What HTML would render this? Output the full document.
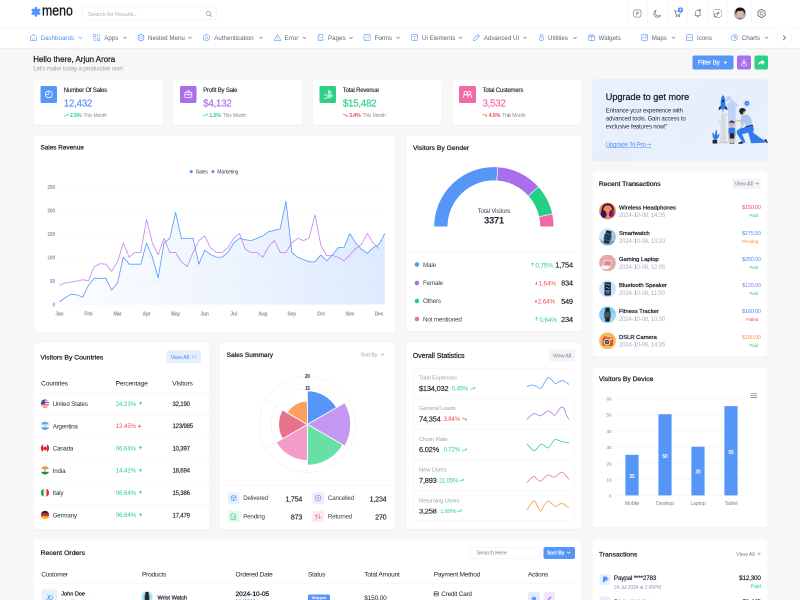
<!DOCTYPE html>
<html><head><meta charset="utf-8"><title>meno</title>
<style>
*{box-sizing:border-box;margin:0;padding:0}
html,body{width:800px;height:600px;overflow:hidden;background:#f7f7f8}
body{font-family:"Liberation Sans",sans-serif;color:#212b36}
#root{position:absolute;left:0;top:0;width:1600px;height:1200px;transform:scale(.5);transform-origin:0 0;will-change:transform;background:#f7f7f8;overflow:hidden}
.abs{position:absolute}
.card{position:absolute;background:#fff;border-radius:6px;box-shadow:0 1px 3px rgba(30,40,60,.06)}
.t{position:absolute;white-space:nowrap;line-height:1}
svg{position:absolute;overflow:visible}
#hdr{position:absolute;left:0;top:0;width:1600px;height:55px;background:#fff;border-bottom:1px solid #eef0f4}
#nav{position:absolute;left:0;top:55px;width:1600px;height:41px;background:#fff;box-shadow:0 1px 3px rgba(30,40,60,.08)}
.nv{position:absolute;white-space:nowrap;line-height:1}
</style></head><body><div id="root">
<div id="hdr"></div>
<svg style="left:60.0px;top:12.0px" width="24.0" height="26.0" viewBox="30 6 12 13" ><g stroke="#4d93ff" stroke-width="2.700" stroke-linecap="round"><line x1="35.9" y1="8.250" x2="35.9" y2="15.350"/><line x1="32.830" y1="10.030" x2="38.970" y2="13.570"/><line x1="32.830" y1="13.570" x2="38.970" y2="10.030"/></g></svg>
<div class="t" style="left:84.4px;top:5.900px;font-size:29.700px;color:#14161b;-webkit-text-stroke:.65px #14161b;transform:scaleX(.83);transform-origin:0 0">meno</div>
<div class="abs" style="left:165.2px;top:12.8px;width:267.6px;height:27.2px;background:#fff;border-radius:5px;border:1px solid #e6ecfa"></div>
<div class="t" style="left:176.0px;top:21.7px;font-size:11.7px;color:#a9b2c3;letter-spacing:-0.29px">Search for Results...</div>
<svg style="left:410.0px;top:20.0px" width="16.0" height="16.0" viewBox="205 10 8 8" ><g fill="none" stroke="#7d8797" stroke-width=".65"><circle cx="208.300" cy="13.300" r="2.100"/><path d="M210 15l1.600 1.600" stroke-linecap="round"/></g></svg>
<div class="abs" style="left:1255.1px;top:0.0px;width:1.0px;height:54.0px;background:#eef0f5;border-radius:0px"></div>
<div class="abs" style="left:1294.7px;top:0.0px;width:1.0px;height:54.0px;background:#eef0f5;border-radius:0px"></div>
<div class="abs" style="left:1334.9px;top:0.0px;width:1.0px;height:54.0px;background:#eef0f5;border-radius:0px"></div>
<div class="abs" style="left:1375.1px;top:0.0px;width:1.0px;height:54.0px;background:#eef0f5;border-radius:0px"></div>
<div class="abs" style="left:1414.7px;top:0.0px;width:1.0px;height:54.0px;background:#eef0f5;border-radius:0px"></div>
<div class="abs" style="left:1455.1px;top:0.0px;width:1.0px;height:54.0px;background:#eef0f5;border-radius:0px"></div>
<div class="abs" style="left:1502.5px;top:0.0px;width:1.0px;height:54.0px;background:#eef0f5;border-radius:0px"></div>
<svg style="left:1264.0px;top:16.0px" width="22.0" height="22.0" viewBox="632 8 11 11" ><g fill="none" stroke="#677186" stroke-width=".65" stroke-linecap="round" stroke-linejoin="round"><rect x="633.700" y="9.800" width="7.300" height="7.300" rx="2"/><path d="M635.900 12.100h3M636.700 12.100v3.100M636.700 13.700h1.700" stroke-width=".65"/></g></svg>
<svg style="left:1304.0px;top:16.0px" width="22.0" height="22.0" viewBox="652 8 11 11" ><g fill="none" stroke="#677186" stroke-width=".65" stroke-linecap="round" stroke-linejoin="round"><path d="M656.200 10.200a3.600 3.600 0 1 0 4.500 4.900 3.300 3.300 0 0 1-4.500-4.900z"/></g></svg>
<svg style="left:1344.0px;top:12.0px" width="24.0" height="26.0" viewBox="672 6 12 13" ><g fill="none" stroke="#677186" stroke-width=".65" stroke-linecap="round" stroke-linejoin="round"><path d="M674 10.200h1l1.200 4.800h3.500l.8-3.300h-5.200"/><circle cx="676.700" cy="16.300" r=".5"/><circle cx="679.300" cy="16.300" r=".5"/></g><circle cx="680.500" cy="10" r="2.900" fill="#4a90ff" stroke="#fff" stroke-width=".5"/></svg>
<div class="t" style="left:1359.2px;top:17.4px;font-size:6.89px;color:#fff;font-weight:700;letter-spacing:-0.22px">6</div>
<svg style="left:1384.0px;top:16.0px" width="24.0" height="22.0" viewBox="692 8 12 11" ><g fill="none" stroke="#677186" stroke-width=".65" stroke-linecap="round" stroke-linejoin="round"><path d="M694.800 15.300c.700-.700.800-1.500.800-2.600 0-1.500 1-2.600 2.200-2.600s2.200 1.100 2.200 2.600c0 1.100.1 1.900.8 2.600z"/><path d="M696.900 16.500c.4.500 1.400.5 1.800 0"/></g><circle cx="699.700" cy="10.300" r="1.250" fill="#f54fa0"/></svg>
<svg style="left:1424.0px;top:16.0px" width="24.0" height="22.0" viewBox="712 8 12 11" ><g fill="none" stroke="#677186" stroke-width=".65" stroke-linecap="round" stroke-linejoin="round"><rect x="713.800" y="9.700" width="7.600" height="7.600" rx="2" stroke-dasharray="1.3 1.300"/><path d="M716 15.200l2.800-2.800M717.300 12.300h1.600v1.600" stroke-width=".6"/><rect x="714.500" y="13.800" width="2.600" height="2.600" rx=".8" stroke-width=".6" fill="#fff"/></g></svg>
<svg style="left:1466.0px;top:14.0px" width="28.0" height="26.0" viewBox="733 7 14 13" ><defs><clipPath id="av"><circle cx="740" cy="13.500" r="6"/></clipPath></defs><g clip-path="url(#av)"><rect x="733" y="7" width="14" height="13" fill="#a6acb4"/><ellipse cx="739.900" cy="14.900" rx="3.100" ry="4.500" fill="#d9b9a6"/><ellipse cx="740" cy="19.300" rx="2.600" ry="1.700" fill="#9a6d52"/><path d="M735.800 14.300C734.600 9.300 737.300 7.200 740.200 7.200C743.700 7.200 745.800 9.600 744.500 14.600C744.200 12.400 743.400 11 742 10.300C741.100 11.200 739.300 11.400 738.300 10.600C737 11.300 736.200 12.500 735.800 14.300Z" fill="#161313"/></g></svg>
<svg style="left:1510.0px;top:16.0px" width="26.0" height="22.0" viewBox="755 8 13 11" ><g fill="none" stroke="#677186" stroke-width=".65" stroke-linecap="round" stroke-linejoin="round"><path d="M761.50 9.40 L765.05 11.45 L765.05 15.55 L761.50 17.60 L757.95 15.55 L757.95 11.45Z" stroke-linejoin="round" stroke-width=".9"/><circle cx="761.500" cy="13.500" r="1.500"/></g></svg>
<div id="nav"><svg style="left:59.0px;top:12.2px" width="16" height="16" viewBox="0 0 14 14" fill="none" stroke="#5a9bfa" stroke-width="1.05" stroke-linejoin="round" stroke-linecap="round"><path d="M1.5 6.2 7 1.5l5.5 4.7V11a1.6 1.6 0 0 1-1.6 1.6H3.1A1.6 1.6 0 0 1 1.5 11z"/><path d="M5.2 12.4V9.2h3.6v3.2" opacity=".6"/></svg>
<div class="nv" style="left:81.2px;top:14.7px;font-size:12.4px;color:#4d8ff5">Dashboards</div>
<svg style="left:157.0px;top:18px" width="8" height="6" viewBox="0 0 8 6" fill="none" stroke="#4d8ff5" stroke-width="1.2" stroke-linecap="round" stroke-linejoin="round"><path d="M1 1.2 4 4.200 7 1.200"/></svg>
<svg style="left:185.4px;top:12.2px" width="16" height="16" viewBox="0 0 14 14" fill="none" stroke="#5a9bfa" stroke-width="1.05" stroke-linejoin="round" stroke-linecap="round"><rect x="1.3" y="1.3" width="4.6" height="4.6" rx="2"/><rect x="8.1" y="1.3" width="4.6" height="4.6" rx="2" opacity=".6"/><rect x="1.3" y="8.1" width="4.6" height="4.6" rx="2" opacity=".6"/><rect x="8.1" y="8.1" width="4.6" height="4.6" rx="2"/></svg>
<div class="nv" style="left:208.4px;top:14.7px;font-size:12.4px;color:#5b6676">Apps</div>
<svg style="left:245.6px;top:18px" width="8" height="6" viewBox="0 0 8 6" fill="none" stroke="#5b6676" stroke-width="1.2" stroke-linecap="round" stroke-linejoin="round"><path d="M1 1.2 4 4.200 7 1.200"/></svg>
<svg style="left:274.0px;top:12.2px" width="16" height="16" viewBox="0 0 14 14" fill="none" stroke="#5a9bfa" stroke-width="1.05" stroke-linejoin="round" stroke-linecap="round"><path d="M7 1 12 3.400v7.200L7 13 2 10.600V3.400z"/><path d="M2.200 3.600 7 6l4.800-2.400M2.200 7.300 7 9.700l4.800-2.400" opacity=".65"/></svg>
<div class="nv" style="left:296.0px;top:14.7px;font-size:12.4px;color:#5b6676">Nested Menu</div>
<svg style="left:376.0px;top:18px" width="8" height="6" viewBox="0 0 8 6" fill="none" stroke="#5b6676" stroke-width="1.2" stroke-linecap="round" stroke-linejoin="round"><path d="M1 1.2 4 4.200 7 1.200"/></svg>
<svg style="left:405.0px;top:12.2px" width="16" height="16" viewBox="0 0 14 14" fill="none" stroke="#5a9bfa" stroke-width="1.05" stroke-linejoin="round" stroke-linecap="round"><circle cx="7" cy="7" r="5.7"/><path d="M7 4.2a1.6 1.6 0 1 1 0 3.2 1.6 1.6 0 0 1 0-3.2zM4.3 10.3c.5-1.3 1.5-1.9 2.7-1.9s2.2.6 2.7 1.9" opacity=".7"/></svg>
<div class="nv" style="left:428.5px;top:14.7px;font-size:12.4px;color:#5b6676">Authentication</div>
<svg style="left:518.0px;top:18px" width="8" height="6" viewBox="0 0 8 6" fill="none" stroke="#5b6676" stroke-width="1.2" stroke-linecap="round" stroke-linejoin="round"><path d="M1 1.2 4 4.200 7 1.200"/></svg>
<svg style="left:547.0px;top:12.2px" width="16" height="16" viewBox="0 0 14 14" fill="none" stroke="#5a9bfa" stroke-width="1.05" stroke-linejoin="round" stroke-linecap="round"><path d="M7 1.8 12.6 11.6a.6.6 0 0 1-.5.9H1.9a.6.6 0 0 1-.5-.9z"/><path d="M7 5.5v3M7 10v.4" opacity=".7"/></svg>
<div class="nv" style="left:569.0px;top:14.7px;font-size:12.4px;color:#5b6676">Error</div>
<svg style="left:605.4px;top:18px" width="8" height="6" viewBox="0 0 8 6" fill="none" stroke="#5b6676" stroke-width="1.2" stroke-linecap="round" stroke-linejoin="round"><path d="M1 1.2 4 4.200 7 1.200"/></svg>
<svg style="left:633.4px;top:12.2px" width="16" height="16" viewBox="0 0 14 14" fill="none" stroke="#5a9bfa" stroke-width="1.05" stroke-linejoin="round" stroke-linecap="round"><path d="M4.5 1.4h5.2a1.5 1.5 0 0 1 1.5 1.5v8.2a1.5 1.5 0 0 1-1.5 1.5H4.3a1.5 1.5 0 0 1-1.5-1.5V4.2z"/><path d="M4.8 1.6v2.8H2.9M5 7.5h4M5 9.8h2.5" opacity=".6"/></svg>
<div class="nv" style="left:656.0px;top:14.7px;font-size:12.4px;color:#5b6676">Pages</div>
<svg style="left:698.0px;top:18px" width="8" height="6" viewBox="0 0 8 6" fill="none" stroke="#5b6676" stroke-width="1.2" stroke-linecap="round" stroke-linejoin="round"><path d="M1 1.2 4 4.200 7 1.200"/></svg>
<svg style="left:725.6px;top:12.2px" width="16" height="16" viewBox="0 0 14 14" fill="none" stroke="#5a9bfa" stroke-width="1.05" stroke-linejoin="round" stroke-linecap="round"><rect x="1.5" y="1.5" width="11" height="11" rx="2.5"/><path d="M5.2 1.8v10.4M8.2 5h2M8.2 7.5h2" opacity=".6"/></svg>
<div class="nv" style="left:749.0px;top:14.7px;font-size:12.4px;color:#5b6676">Forms</div>
<svg style="left:792.0px;top:18px" width="8" height="6" viewBox="0 0 8 6" fill="none" stroke="#5b6676" stroke-width="1.2" stroke-linecap="round" stroke-linejoin="round"><path d="M1 1.2 4 4.200 7 1.200"/></svg>
<svg style="left:820.6px;top:12.2px" width="16" height="16" viewBox="0 0 14 14" fill="none" stroke="#5a9bfa" stroke-width="1.05" stroke-linejoin="round" stroke-linecap="round"><rect x="1.5" y="1.5" width="11" height="11" rx="2.8"/><path d="M1.8 5h10.4M7 5v7.2" opacity=".6"/></svg>
<div class="nv" style="left:844.0px;top:14.7px;font-size:12.4px;color:#5b6676">Ui Elements</div>
<svg style="left:917.0px;top:18px" width="8" height="6" viewBox="0 0 8 6" fill="none" stroke="#5b6676" stroke-width="1.2" stroke-linecap="round" stroke-linejoin="round"><path d="M1 1.2 4 4.200 7 1.200"/></svg>
<svg style="left:944.5px;top:12.2px" width="16" height="16" viewBox="0 0 14 14" fill="none" stroke="#5a9bfa" stroke-width="1.05" stroke-linejoin="round" stroke-linecap="round"><path d="M9.3 1.8 12.2 4.7 5.2 11.7l-3.6.8.8-3.7z"/><path d="M7.8 3.4l2.8 2.8" opacity=".6"/></svg>
<div class="nv" style="left:967.5px;top:14.7px;font-size:12.4px;color:#5b6676">Advanced UI</div>
<svg style="left:1046.0px;top:18px" width="8" height="6" viewBox="0 0 8 6" fill="none" stroke="#5b6676" stroke-width="1.2" stroke-linecap="round" stroke-linejoin="round"><path d="M1 1.2 4 4.200 7 1.200"/></svg>
<svg style="left:1074.5px;top:12.2px" width="16" height="16" viewBox="0 0 14 14" fill="none" stroke="#5a9bfa" stroke-width="1.05" stroke-linejoin="round" stroke-linecap="round"><circle cx="7" cy="8.6" r="3.9"/><path d="M4.3 1.3h5.4L8.5 4.6h-3zM7 7.2v2.8" opacity=".7"/></svg>
<div class="nv" style="left:1096.0px;top:14.7px;font-size:12.4px;color:#5b6676">Utilities</div>
<svg style="left:1146.0px;top:18px" width="8" height="6" viewBox="0 0 8 6" fill="none" stroke="#5b6676" stroke-width="1.2" stroke-linecap="round" stroke-linejoin="round"><path d="M1 1.2 4 4.200 7 1.200"/></svg>
<svg style="left:1174.5px;top:12.2px" width="16" height="16" viewBox="0 0 14 14" fill="none" stroke="#5a9bfa" stroke-width="1.05" stroke-linejoin="round" stroke-linecap="round"><rect x="2" y="5.8" width="10" height="6.8" rx="1.5"/><path d="M1.4 3.8h11.2v2H1.4zM7 3.8v8.8M7 3.6C5.5 1 3.6 1.6 4 3M7 3.6C8.5 1 10.4 1.6 10 3" opacity=".7"/></svg>
<div class="nv" style="left:1197.0px;top:14.7px;font-size:12.4px;color:#5b6676">Widgets</div>
<svg style="left:1281.0px;top:12.2px" width="16" height="16" viewBox="0 0 14 14" fill="none" stroke="#5a9bfa" stroke-width="1.05" stroke-linejoin="round" stroke-linecap="round"><rect x="1.5" y="1.5" width="11" height="11" rx="3"/><path d="M2 8.5 5.5 6l3 3 4-3.5M8.5 4.2a1 1 0 1 1 0 .1" opacity=".7"/></svg>
<div class="nv" style="left:1303.5px;top:14.7px;font-size:12.4px;color:#5b6676">Maps</div>
<svg style="left:1342.5px;top:18px" width="8" height="6" viewBox="0 0 8 6" fill="none" stroke="#5b6676" stroke-width="1.2" stroke-linecap="round" stroke-linejoin="round"><path d="M1 1.2 4 4.200 7 1.200"/></svg>
<svg style="left:1370.5px;top:12.2px" width="16" height="16" viewBox="0 0 14 14" fill="none" stroke="#5a9bfa" stroke-width="1.05" stroke-linejoin="round" stroke-linecap="round"><path d="M1.6 5.2 2.6 2a.9.9 0 0 1 .9-.6h7a.9.9 0 0 1 .9.6l1 3.2v6a1.4 1.4 0 0 1-1.4 1.4H3A1.4 1.4 0 0 1 1.6 11.200z"/><path d="M1.8 5.4c.8 1.8 2.6 1.8 3.500 0 .8 1.800 2.600 1.800 3.400 0 .8 1.800 2.600 1.800 3.500 0" opacity=".7"/></svg>
<div class="nv" style="left:1394.0px;top:14.7px;font-size:12.4px;color:#5b6676">Icons</div>
<svg style="left:1461.0px;top:12.2px" width="16" height="16" viewBox="0 0 14 14" fill="none" stroke="#5a9bfa" stroke-width="1.05" stroke-linejoin="round" stroke-linecap="round"><path d="M6.300 2.200A5.300 5.300 0 1 0 11.900 7.800H6.300z"/><path d="M8.200 1.300v4.600h4.600A4.700 4.700 0 0 0 8.200 1.300z" opacity=".7"/></svg>
<div class="nv" style="left:1483.5px;top:14.7px;font-size:12.4px;color:#5b6676">Charts</div>
<svg style="left:1528.5px;top:18px" width="8" height="6" viewBox="0 0 8 6" fill="none" stroke="#5b6676" stroke-width="1.2" stroke-linecap="round" stroke-linejoin="round"><path d="M1 1.2 4 4.200 7 1.200"/></svg>
<div class="abs" style="left:1553px;top:5px;width:31px;height:31px;border-radius:50%;background:#fff;border:1px solid #eef0f4;box-shadow:0 1px 2px rgba(0,0,0,.04)"></div><svg style="left:1565px;top:15px" width="8" height="11" viewBox="0 0 8 11" fill="none" stroke="#444c58" stroke-width="1.500" stroke-linecap="round" stroke-linejoin="round"><path d="M2 1.500 6 5.500 2 9.500"/></svg></div>
<div class="t" style="left:66.4px;top:110.5px;font-size:15.86px;color:#1b1f27;-webkit-text-stroke:.5px #1b1f27">Hello there, Arjun Arora</div>
<div class="t" style="left:66.4px;top:130.9px;font-size:12.3px;color:#9aa4b5;letter-spacing:-0.32px">Let's make today a productive one!</div>
<div class="abs" style="left:1384.5px;top:110.5px;width:82.3px;height:28.7px;background:#5596f7;border-radius:4px"></div>
<div class="t" style="left:1395.8px;top:120.1px;font-size:11.94px;color:#fff;-webkit-text-stroke:.3px #fff;letter-spacing:0.00px">Filter By</div>
<svg style="left:1444.0px;top:120.0px" width="14.0" height="12.0" viewBox="722 60 7 6" ><path d="M723.400 61.700h3.800l-1.900 2.200z" fill="#fff"/></svg>
<div class="abs" style="left:1474.0px;top:110.5px;width:28.0px;height:28.7px;background:#a86eeb;border-radius:4px"></div>
<svg style="left:1474.0px;top:110.0px" width="28.0" height="30.0" viewBox="737 55 14 15" ><g fill="none" stroke="#fff" stroke-width=".8" stroke-linecap="round" stroke-linejoin="round"><path d="M744 59.300v4M742.400 61.900l1.600 1.600 1.600-1.600"/><path d="M741.300 63.500c0 2 1 2.300 2.700 2.300s2.700-.3 2.700-2.300" opacity=".85"/></g></svg>
<div class="abs" style="left:1508.6px;top:110.5px;width:27.6px;height:28.7px;background:#2bd084;border-radius:4px"></div>
<svg style="left:1508.0px;top:110.0px" width="28.0" height="30.0" viewBox="754 55 14 15" ><g fill="#fff"><path d="M761.800 59.800l3.200 2.500-3.200 2.500v-1.500c-1.800 0-3 .6-3.800 2 .2-2.300 1.500-3.800 3.800-4z"/></g></svg>
<div class="card" style="left:67.7px;top:159.4px;width:257.2px;height:91.0px"></div>
<div class="abs" style="left:80.9px;top:172.2px;width:33.4px;height:33.6px;background:#5596f7;border-radius:3px"></div>
<svg style="left:80.9px;top:172.2px" width="33.4" height="33.6" viewBox="40.45 86.1 16.700000000000003 16.80000000000001" ><g fill="none" stroke="#fff" stroke-width=".75" stroke-linecap="round" stroke-linejoin="round" transform="translate(48.80 94.5)"><circle r="3.400"/><path d="M0-3.400A3.400 3.400 0 0 0-3.400 0H0z" stroke-width=".6"/></g></svg>
<div class="t" style="left:127.6px;top:175.1px;font-size:11.95px;color:#1b1f27;-webkit-text-stroke:.25px #1b1f27;letter-spacing:-0.35px">Number Of Sales</div>
<div class="t" style="left:127.6px;top:197.1px;font-size:19.61px;color:#5596f7;-webkit-text-stroke:.35px #5596f7;letter-spacing:-0.57px">12,432</div>
<svg style="left:127.6px;top:224.0px" width="10.0" height="12.0" viewBox="63.8 112 5.0 6" ><path d="M64.10 116.300l1.300-1.200.8.700 1.700-1.700M66.80 114h1.200v1.200" fill="none" stroke="#2bd084" stroke-width=".55" stroke-linecap="round" stroke-linejoin="round"/></svg>
<div class="t" style="left:139.8px;top:225.1px;font-size:10.89px;color:#2bd084;font-weight:700;letter-spacing:-0.35px">2.5%</div>
<div class="t" style="left:166.8px;top:225.5px;font-size:9.99px;color:#8b8f98;letter-spacing:-0.28px">This Month</div>
<div class="card" style="left:346.4px;top:159.4px;width:257.2px;height:91.0px"></div>
<div class="abs" style="left:359.6px;top:172.2px;width:33.4px;height:33.6px;background:#a86eeb;border-radius:3px"></div>
<svg style="left:359.6px;top:172.2px" width="33.4" height="33.6" viewBox="179.79999999999998 86.1 16.700000000000017 16.80000000000001" ><g fill="none" stroke="#fff" stroke-width=".75" stroke-linecap="round" stroke-linejoin="round" transform="translate(188.15 94.5)"><rect x="-3.500" y="-2" width="7" height="5" rx=".8"/><path d="M-1.400-2v-.9a.6.600 0 0 1 .6-.6h1.600a.6.600 0 0 1 .6.600v.9M-3.500.3h7M0-.3v1.300"/></g></svg>
<div class="t" style="left:406.3px;top:175.1px;font-size:11.95px;color:#1b1f27;-webkit-text-stroke:.25px #1b1f27;letter-spacing:-0.29px">Profit By Sale</div>
<div class="t" style="left:406.3px;top:197.1px;font-size:19.61px;color:#a86eeb;-webkit-text-stroke:.35px #a86eeb;letter-spacing:-0.57px">$4,132</div>
<svg style="left:406.3px;top:224.0px" width="10.0" height="12.0" viewBox="203.14999999999998 112 5.0 6" ><path d="M203.45 116.300l1.300-1.200.8.700 1.700-1.700M206.15 114h1.200v1.200" fill="none" stroke="#2bd084" stroke-width=".55" stroke-linecap="round" stroke-linejoin="round"/></svg>
<div class="t" style="left:418.5px;top:225.1px;font-size:10.89px;color:#2bd084;font-weight:700;letter-spacing:-0.35px">1.5%</div>
<div class="t" style="left:445.5px;top:225.5px;font-size:9.99px;color:#8b8f98;letter-spacing:-0.28px">This Month</div>
<div class="card" style="left:625.8px;top:159.4px;width:257.2px;height:91.0px"></div>
<div class="abs" style="left:639.0px;top:172.2px;width:33.4px;height:33.6px;background:#2bd084;border-radius:3px"></div>
<svg style="left:639.0px;top:172.2px" width="33.4" height="33.6" viewBox="319.5 86.1 16.69999999999999 16.80000000000001" ><g fill="none" stroke="#fff" stroke-width=".75" stroke-linecap="round" stroke-linejoin="round" transform="translate(327.85 94.5)"><path d="M-3.700 1.100c1-.9 2.200-.9 3.200-.2h1.500c.9 0 .9 1.300 0 1.300H-.400M1.300 1.700l2.100-.9c.8-.3 1.300.6.600 1.100L1.100 3.600h-3.300l-1.500.400"/><circle cx="1.800" cy="-1.500" r="1.300"/><path d="M.500-2.400a1.300 1.300 0 0 1 1.700-1.300"/></g></svg>
<div class="t" style="left:685.7px;top:175.1px;font-size:11.95px;color:#1b1f27;-webkit-text-stroke:.25px #1b1f27;letter-spacing:-0.33px">Total Revenue</div>
<div class="t" style="left:685.7px;top:197.1px;font-size:19.61px;color:#2bd084;-webkit-text-stroke:.35px #2bd084;letter-spacing:-0.57px">$15,482</div>
<svg style="left:685.7px;top:224.0px" width="10.0" height="12.0" viewBox="342.84999999999997 112 5.0 6" ><path d="M343.15 113.900l1.300 1.200.8-.7 1.700 1.700M345.85 116.200h1.200v-1.200" fill="none" stroke="#ef4d56" stroke-width=".55" stroke-linecap="round" stroke-linejoin="round"/></svg>
<div class="t" style="left:697.9px;top:225.1px;font-size:10.89px;color:#ef4d56;font-weight:700;letter-spacing:-0.35px">3.4%</div>
<div class="t" style="left:724.9px;top:225.5px;font-size:9.99px;color:#8b8f98;letter-spacing:-0.28px">This Month</div>
<div class="card" style="left:905.1px;top:159.4px;width:257.2px;height:91.0px"></div>
<div class="abs" style="left:918.3px;top:172.2px;width:33.4px;height:33.6px;background:#f06aaa;border-radius:3px"></div>
<svg style="left:918.3px;top:172.2px" width="33.4" height="33.6" viewBox="459.15000000000003 86.1 16.69999999999999 16.80000000000001" ><g fill="none" stroke="#fff" stroke-width=".75" stroke-linecap="round" stroke-linejoin="round" transform="translate(467.50 94.5)"><circle cx="-1.700" cy="-1.400" r="1.600"/><circle cx="1.900" cy="-1.400" r="1.600"/><path d="M-4.200 3.200c0-1.800 1.100-2.800 2.500-2.800s2.500 1 2.500 2.800M.8 1c.3-.4.700-.6 1.100-.6 1.400 0 2.500 1 2.500 2.800"/></g></svg>
<div class="t" style="left:965.0px;top:175.1px;font-size:11.95px;color:#1b1f27;-webkit-text-stroke:.25px #1b1f27;letter-spacing:-0.33px">Total Customers</div>
<div class="t" style="left:965.0px;top:197.1px;font-size:19.61px;color:#f06aaa;-webkit-text-stroke:.35px #f06aaa;letter-spacing:-0.56px">3,532</div>
<svg style="left:965.0px;top:224.0px" width="10.0" height="12.0" viewBox="482.5 112 5.0 6" ><path d="M482.80 113.900l1.300 1.200.8-.7 1.700 1.700M485.50 116.200h1.200v-1.200" fill="none" stroke="#ef4d56" stroke-width=".55" stroke-linecap="round" stroke-linejoin="round"/></svg>
<div class="t" style="left:977.2px;top:225.1px;font-size:10.89px;color:#ef4d56;font-weight:700;letter-spacing:-0.35px">4.5%</div>
<div class="t" style="left:1004.2px;top:225.5px;font-size:9.99px;color:#8b8f98;letter-spacing:-0.28px">This Month</div>
<div class="card" style="left:67.7px;top:271.2px;width:722.3px;height:392.4px"></div>
<div class="t" style="left:80.9px;top:289.1px;font-size:12.81px;color:#1b1f27;-webkit-text-stroke:.5px #1b1f27;letter-spacing:0.00px">Sales Revenue</div>
<svg style="left:378.0px;top:338.0px" width="104.0" height="10.0" viewBox="189 169 52 5" ><circle cx="191.200" cy="171.600" r="1.500" fill="#3f8cff"/><circle cx="212.900" cy="171.600" r="1.500" fill="#b264f5"/></svg>
<div class="t" style="left:391.2px;top:338.8px;font-size:10.18px;color:#333b47;letter-spacing:-0.29px">Sales</div>
<div class="t" style="left:434.6px;top:338.8px;font-size:10.18px;color:#333b47;letter-spacing:-0.28px">Marketing</div>
<svg style="left:80.0px;top:360.0px" width="700.0" height="280.0" viewBox="40 180 350 140" ><line x1="59.400" y1="304.20" x2="384.800" y2="304.20" stroke="#e9ecf1" stroke-width=".5" stroke-dasharray="1.500 1.500"/><line x1="59.400" y1="280.66" x2="384.800" y2="280.66" stroke="#e9ecf1" stroke-width=".5" stroke-dasharray="1.500 1.500"/><line x1="59.400" y1="257.12" x2="384.800" y2="257.12" stroke="#e9ecf1" stroke-width=".5" stroke-dasharray="1.500 1.500"/><line x1="59.400" y1="233.58" x2="384.800" y2="233.58" stroke="#e9ecf1" stroke-width=".5" stroke-dasharray="1.500 1.500"/><line x1="59.400" y1="210.04" x2="384.800" y2="210.04" stroke="#e9ecf1" stroke-width=".5" stroke-dasharray="1.500 1.500"/><line x1="59.400" y1="186.50" x2="384.800" y2="186.50" stroke="#e9ecf1" stroke-width=".5" stroke-dasharray="1.500 1.500"/><defs><linearGradient id="sg" x1="0" y1="0" x2="1" y2="0"><stop offset="0" stop-color="#5596f7" stop-opacity=".025"/><stop offset=".5" stop-color="#5596f7" stop-opacity=".095"/><stop offset="1" stop-color="#5596f7" stop-opacity=".2"/></linearGradient></defs><path d="M59.40 301.85 L65.21 297.61 L71.02 294.31 L76.83 294.78 L82.64 297.14 L88.45 285.37 L94.26 278.31 L100.07 278.31 L105.88 278.31 L111.69 290.08 L117.50 283.01 L123.31 257.12 L129.12 264.18 L134.93 264.18 L140.74 264.18 L146.55 243.00 L152.36 257.12 L158.17 277.84 L163.98 243.00 L169.79 238.29 L175.60 212.39 L181.41 238.29 L187.22 238.29 L193.03 238.29 L198.84 264.18 L204.65 250.06 L210.46 254.30 L216.27 257.12 L222.08 257.12 L227.89 252.41 L233.70 243.00 L239.51 238.29 L245.32 239.70 L251.13 240.64 L256.94 238.29 L262.75 235.93 L268.56 231.70 L274.37 230.28 L280.18 228.87 L285.99 201.09 L291.80 252.41 L297.61 257.12 L303.42 259.47 L309.23 261.83 L315.04 261.83 L320.85 254.77 L326.66 260.89 L332.47 254.77 L338.28 247.70 L344.09 247.23 L349.90 233.58 L355.71 243.00 L361.52 249.12 L367.33 253.35 L373.14 247.70 L378.95 244.41 L384.76 233.58 L384.76 304.20 L59.40 304.20Z" fill="url(#sg)"/><path d="M59.40 285.37 L65.21 283.01 L71.02 282.07 L76.83 281.13 L82.64 279.72 L88.45 280.66 L94.26 266.54 L100.07 263.71 L105.88 264.18 L111.69 271.24 L117.50 261.83 L123.31 243.00 L129.12 257.12 L134.93 252.41 L140.74 252.41 L146.55 219.46 L152.36 243.00 L158.17 254.77 L163.98 238.29 L169.79 252.41 L175.60 252.41 L181.41 261.83 L187.22 266.54 L193.03 252.41 L198.84 240.64 L204.65 235.93 L210.46 247.70 L216.27 252.41 L222.08 252.41 L227.89 247.70 L233.70 238.29 L239.51 233.58 L245.32 249.12 L251.13 252.41 L256.94 252.41 L262.75 257.12 L268.56 246.76 L274.37 240.17 L280.18 252.41 L285.99 252.41 L291.80 243.00 L297.61 238.29 L303.42 240.64 L309.23 237.82 L315.04 214.75 L320.85 245.35 L326.66 255.71 L332.47 255.24 L338.28 257.59 L344.09 260.89 L349.90 254.77 L355.71 248.65 L361.52 244.41 L367.33 233.58 L373.14 243.00 L378.95 248.65" fill="none" stroke="#c58bf6" stroke-width=".85" stroke-linejoin="round"/><path d="M59.40 301.85 L65.21 297.61 L71.02 294.31 L76.83 294.78 L82.64 297.14 L88.45 285.37 L94.26 278.31 L100.07 278.31 L105.88 278.31 L111.69 290.08 L117.50 283.01 L123.31 257.12 L129.12 264.18 L134.93 264.18 L140.74 264.18 L146.55 243.00 L152.36 257.12 L158.17 277.84 L163.98 243.00 L169.79 238.29 L175.60 212.39 L181.41 238.29 L187.22 238.29 L193.03 238.29 L198.84 264.18 L204.65 250.06 L210.46 254.30 L216.27 257.12 L222.08 257.12 L227.89 252.41 L233.70 243.00 L239.51 238.29 L245.32 239.70 L251.13 240.64 L256.94 238.29 L262.75 235.93 L268.56 231.70 L274.37 230.28 L280.18 228.87 L285.99 201.09 L291.80 252.41 L297.61 257.12 L303.42 259.47 L309.23 261.83 L315.04 261.83 L320.85 254.77 L326.66 260.89 L332.47 254.77 L338.28 247.70 L344.09 247.23 L349.90 233.58 L355.71 243.00 L361.52 249.12 L367.33 253.35 L373.14 247.70 L378.95 244.41 L384.76 233.58" fill="none" stroke="#5c9df9" stroke-width=".85" stroke-linejoin="round"/></svg>
<div class="t" style="right:1489.9px;top:604.4px;font-size:9.78px;color:#98a5b9;font-weight:700;-webkit-text-stroke:.2px #98a5b9;letter-spacing:-0.31px;transform:scaleY(1.18);transform-origin:50% 50%">0</div>
<div class="t" style="right:1489.9px;top:557.3px;font-size:9.78px;color:#98a5b9;font-weight:700;-webkit-text-stroke:.2px #98a5b9;letter-spacing:-0.31px;transform:scaleY(1.18);transform-origin:50% 50%">50</div>
<div class="t" style="right:1489.9px;top:510.3px;font-size:9.78px;color:#98a5b9;font-weight:700;-webkit-text-stroke:.2px #98a5b9;letter-spacing:-0.31px;transform:scaleY(1.18);transform-origin:50% 50%">100</div>
<div class="t" style="right:1489.9px;top:463.2px;font-size:9.78px;color:#98a5b9;font-weight:700;-webkit-text-stroke:.2px #98a5b9;letter-spacing:-0.31px;transform:scaleY(1.18);transform-origin:50% 50%">150</div>
<div class="t" style="right:1489.9px;top:416.1px;font-size:9.78px;color:#98a5b9;font-weight:700;-webkit-text-stroke:.2px #98a5b9;letter-spacing:-0.31px;transform:scaleY(1.18);transform-origin:50% 50%">200</div>
<div class="t" style="right:1489.9px;top:369.0px;font-size:9.78px;color:#98a5b9;font-weight:700;-webkit-text-stroke:.2px #98a5b9;letter-spacing:-0.31px;transform:scaleY(1.18);transform-origin:50% 50%">250</div>
<div class="t" style="left:110.8px;top:622.2px;font-size:9.78px;color:#98a5b9;font-weight:700;-webkit-text-stroke:.25px #98a5b9;letter-spacing:-0.32px;transform:scaleY(1.2);transform-origin:50% 50%">Jan</div>
<div class="t" style="left:168.7px;top:622.2px;font-size:9.78px;color:#98a5b9;font-weight:700;-webkit-text-stroke:.25px #98a5b9;letter-spacing:-0.33px;transform:scaleY(1.2);transform-origin:50% 50%">Feb</div>
<div class="t" style="left:226.8px;top:622.2px;font-size:9.78px;color:#98a5b9;font-weight:700;-webkit-text-stroke:.25px #98a5b9;letter-spacing:-0.33px;transform:scaleY(1.2);transform-origin:50% 50%">Mar</div>
<div class="t" style="left:285.2px;top:622.2px;font-size:9.78px;color:#98a5b9;font-weight:700;-webkit-text-stroke:.25px #98a5b9;letter-spacing:-0.32px;transform:scaleY(1.2);transform-origin:50% 50%">Apr</div>
<div class="t" style="left:342.2px;top:622.2px;font-size:9.78px;color:#98a5b9;font-weight:700;-webkit-text-stroke:.25px #98a5b9;letter-spacing:-0.36px;transform:scaleY(1.2);transform-origin:50% 50%">May</div>
<div class="t" style="left:401.1px;top:622.2px;font-size:9.78px;color:#98a5b9;font-weight:700;-webkit-text-stroke:.25px #98a5b9;letter-spacing:-0.33px;transform:scaleY(1.2);transform-origin:50% 50%">Jun</div>
<div class="t" style="left:460.7px;top:622.2px;font-size:9.78px;color:#98a5b9;font-weight:700;-webkit-text-stroke:.25px #98a5b9;letter-spacing:-0.26px;transform:scaleY(1.2);transform-origin:50% 50%">Jul</div>
<div class="t" style="left:516.5px;top:622.2px;font-size:9.78px;color:#98a5b9;font-weight:700;-webkit-text-stroke:.25px #98a5b9;letter-spacing:-0.36px;transform:scaleY(1.2);transform-origin:50% 50%">Aug</div>
<div class="t" style="left:575.1px;top:622.2px;font-size:9.78px;color:#98a5b9;font-weight:700;-webkit-text-stroke:.25px #98a5b9;letter-spacing:-0.34px;transform:scaleY(1.2);transform-origin:50% 50%">Sep</div>
<div class="t" style="left:634.0px;top:622.2px;font-size:9.78px;color:#98a5b9;font-weight:700;-webkit-text-stroke:.25px #98a5b9;letter-spacing:-0.31px;transform:scaleY(1.2);transform-origin:50% 50%">Oct</div>
<div class="t" style="left:691.1px;top:622.2px;font-size:9.78px;color:#98a5b9;font-weight:700;-webkit-text-stroke:.25px #98a5b9;letter-spacing:-0.35px;transform:scaleY(1.2);transform-origin:50% 50%">Nov</div>
<div class="t" style="left:749.4px;top:622.2px;font-size:9.78px;color:#98a5b9;font-weight:700;-webkit-text-stroke:.25px #98a5b9;letter-spacing:-0.34px;transform:scaleY(1.2);transform-origin:50% 50%">Dec</div>
<div class="card" style="left:812.2px;top:271.2px;width:351.2px;height:391.6px"></div>
<div class="t" style="left:826.0px;top:288.8px;font-size:13.49px;color:#1b1f27;-webkit-text-stroke:.5px #1b1f27">Visitors By Gender</div>
<svg style="left:860.0px;top:320.0px" width="260.0" height="140.0" viewBox="430 160 130 70" ><path d="M433.90 226.80A60 60 0 0 1 497.73 166.92L496.84 180.79A46.1 46.1 0 0 0 447.80 226.80Z" fill="#5596f7" stroke="#fff" stroke-width=".6"/><path d="M497.73 166.92A60 60 0 0 1 538.62 186.80L528.26 196.07A46.1 46.1 0 0 0 496.84 180.79Z" fill="#a86eeb" stroke="#fff" stroke-width=".6"/><path d="M538.62 186.80A60 60 0 0 1 552.48 213.82L538.91 216.83A46.1 46.1 0 0 0 528.26 196.07Z" fill="#26cf86" stroke="#fff" stroke-width=".6"/><path d="M552.48 213.82A60 60 0 0 1 553.90 226.80L540.00 226.80A46.1 46.1 0 0 0 538.91 216.83Z" fill="#f06aaa" stroke="#fff" stroke-width=".6"/></svg>
<div class="t" style="left:955.2px;top:415.8px;font-size:12.23px;color:#3d4450;letter-spacing:-0.28px">Total Visitors</div>
<div class="t" style="left:968.0px;top:432.3px;font-size:18.87px;color:#1b1f27;font-weight:700;letter-spacing:-0.60px">3371</div>
<div class="abs" style="left:812.2px;top:503.6px;width:351.2px;height:1.0px;background:#eef0f4;border-radius:0px"></div>
<svg style="left:828.0px;top:523.2px" width="12.0" height="12.0" viewBox="414 261.6 6 6.0" ><circle cx="416.900" cy="264.60" r="2.250" fill="#5596f7"/></svg>
<div class="t" style="left:846.0px;top:523.6px;font-size:12.61px;color:#3d4450;letter-spacing:-0.38px">Male</div>
<div class="t" style="right:454.2px;top:522.8px;font-size:14.96px;color:#1b1f27;-webkit-text-stroke:.3px #1b1f27;letter-spacing:-0.43px">1,754</div>
<svg style="left:1063.0px;top:523.2px" width="6.0" height="12.0" viewBox="531.5 261.6 3.0 6.0" ><path d="M532.50 266.10v-2.900M531.50 264.20l1-1.100 1 1.100" fill="none" stroke="#2bd084" stroke-width=".6" stroke-linecap="round" stroke-linejoin="round"/></svg>
<div class="t" style="left:1070.8px;top:523.6px;font-size:13.01px;color:#2bd084;letter-spacing:-0.42px">0.75%</div>
<svg style="left:828.0px;top:559.5px" width="12.0" height="12.0" viewBox="414 279.77000000000004 6 6.0" ><circle cx="416.900" cy="282.77" r="2.250" fill="#a86eeb"/></svg>
<div class="t" style="left:846.0px;top:559.9px;font-size:12.61px;color:#3d4450;letter-spacing:-0.39px">Female</div>
<div class="t" style="right:454.3px;top:559.2px;font-size:14.96px;color:#1b1f27;-webkit-text-stroke:.3px #1b1f27;letter-spacing:-0.47px">834</div>
<svg style="left:1071.0px;top:559.5px" width="6.0" height="12.0" viewBox="535.5 279.77000000000004 3.0 6.0" ><path d="M536.50 281.27v2.900M535.50 283.17l1 1.100 1-1.100" fill="none" stroke="#ef4d56" stroke-width=".6" stroke-linecap="round" stroke-linejoin="round"/></svg>
<div class="t" style="left:1076.8px;top:559.9px;font-size:13.01px;color:#ef4d56;letter-spacing:-0.42px">1.64%</div>
<svg style="left:828.0px;top:595.9px" width="12.0" height="12.0" viewBox="414 297.94000000000005 6 6.0" ><circle cx="416.900" cy="300.94" r="2.250" fill="#26cf86"/></svg>
<div class="t" style="left:846.0px;top:596.3px;font-size:12.61px;color:#3d4450;letter-spacing:-0.36px">Others</div>
<div class="t" style="right:454.3px;top:595.5px;font-size:14.96px;color:#1b1f27;-webkit-text-stroke:.3px #1b1f27;letter-spacing:-0.47px">549</div>
<svg style="left:1069.6px;top:595.9px" width="6.0" height="12.0" viewBox="534.8 297.94000000000005 3.0 6.0" ><path d="M535.80 299.44v2.900M534.80 301.34l1 1.100 1-1.100" fill="none" stroke="#ef4d56" stroke-width=".6" stroke-linecap="round" stroke-linejoin="round"/></svg>
<div class="t" style="left:1075.4px;top:596.3px;font-size:13.01px;color:#ef4d56;letter-spacing:-0.42px">2.64%</div>
<svg style="left:828.0px;top:632.2px" width="12.0" height="12.0" viewBox="414 316.11 6 6.0" ><circle cx="416.900" cy="319.11" r="2.250" fill="#f06aaa"/></svg>
<div class="t" style="left:846.0px;top:632.6px;font-size:12.61px;color:#3d4450;letter-spacing:-0.36px">Not mentioned</div>
<div class="t" style="right:454.3px;top:631.8px;font-size:14.96px;color:#1b1f27;-webkit-text-stroke:.3px #1b1f27;letter-spacing:-0.47px">234</div>
<svg style="left:1071.0px;top:632.2px" width="6.0" height="12.0" viewBox="535.5 316.11 3.0 6.0" ><path d="M536.50 320.61v-2.900M535.50 318.71l1-1.100 1 1.100" fill="none" stroke="#2bd084" stroke-width=".6" stroke-linecap="round" stroke-linejoin="round"/></svg>
<div class="t" style="left:1078.8px;top:632.6px;font-size:13.01px;color:#2bd084;letter-spacing:-0.42px">0.64%</div>
<div class="abs" style="left:1184.2px;top:158.400px;width:351.8px;height:164px;background:#e8f0fc;border-radius:7px;overflow:hidden;box-shadow:0 1px 3px rgba(30,40,60,.05)"><svg style="left:0;top:0" width="351.8" height="164" viewBox="592.100 79.200 175.900 82"><g fill="none" stroke="#dde4fa" stroke-width=".3"><path d="M680 110.0C700 100.0 705 75.0 725 78.0S750 65.0 775 62.0" /><path d="M680 113.2C700 103.2 705 78.2 725 81.2S750 68.2 775 65.2" /><path d="M680 116.4C700 106.4 705 81.4 725 84.4S750 71.4 775 68.4" /><path d="M680 119.6C700 109.6 705 84.6 725 87.6S750 74.6 775 71.6" /><path d="M680 122.8C700 112.8 705 87.8 725 90.8S750 77.8 775 74.8" /><path d="M680 126.0C700 116.0 705 91.0 725 94.0S750 81.0 775 78.0" /><path d="M680 129.2C700 119.2 705 94.2 725 97.2S750 84.2 775 81.2" /><path d="M680 132.4C700 122.4 705 97.4 725 100.4S750 87.4 775 84.4" /><path d="M680 135.6C700 125.6 705 100.6 725 103.6S750 90.6 775 87.6" /><path d="M680 138.8C700 128.8 705 103.8 725 106.8S750 93.8 775 90.8" /><path d="M680 142.0C700 132.0 705 107.0 725 110.0S750 97.0 775 94.0" /><path d="M680 145.2C700 135.2 705 110.2 725 113.2S750 100.2 775 97.2" /><path d="M680 148.4C700 138.4 705 113.4 725 116.4S750 103.4 775 100.4" /><path d="M680 151.6C700 141.6 705 116.6 725 119.6S750 106.6 775 103.6" /><path d="M585 160.0C600 140.0 620 150.0 640 125.0" /><path d="M585 163.0C600 143.0 620 153.0 640 128.0" /><path d="M585 166.0C600 146.0 620 156.0 640 131.0" /><path d="M585 169.0C600 149.0 620 159.0 640 134.0" /><path d="M585 172.0C600 152.0 620 162.0 640 137.0" /><path d="M585 175.0C600 155.0 620 165.0 640 140.0" /><path d="M585 178.0C600 158.0 620 168.0 640 143.0" /><path d="M585 181.0C600 161.0 620 171.0 640 146.0" /><path d="M585 184.0C600 164.0 620 174.0 640 149.0" /><path d="M585 187.0C600 167.0 620 177.0 640 152.0" /></g></svg></div>
<div class="t" style="left:1211.5px;top:185.2px;font-size:18.21px;color:#1b1f27;-webkit-text-stroke:.5px #1b1f27;letter-spacing:-0.00px">Upgrade to get more</div>
<div class="t" style="left:1211.5px;top:215.4px;font-size:12.2px;color:#2b323d;letter-spacing:-0.33px">Enhance your experience with</div>
<div class="t" style="left:1211.5px;top:231.2px;font-size:12.2px;color:#2b323d;letter-spacing:-0.32px">advanced tools. Gain access to</div>
<div class="t" style="left:1211.5px;top:247.4px;font-size:12.2px;color:#2b323d;letter-spacing:-0.31px">exclusive features now!"</div>
<div class="t" style="left:1211.5px;top:283.4px;font-size:12.14px;color:#4d8ff5;letter-spacing:-0.34px">Upgrade To Pro</div>
<div class="abs" style="left:1211.5px;top:294.6px;width:90.9px;height:0.9px;background:#4d8ff5;border-radius:0px"></div>
<svg style="left:1294.0px;top:285.2px" width="7.6" height="8.0" viewBox="647 142.6 3.7999999999999545 4.0" ><path d="M647.00 144.60h3.80M649.50 143.40l1.300 1.200-1.300 1.200" fill="none" stroke="#4d8ff5" stroke-width="0.5" stroke-linecap="round" stroke-linejoin="round"/></svg>
<svg style="left:1410.0px;top:180.0px" width="130.0" height="120.0" viewBox="705 90 65 60" ><path d="M731.900 99.400l6 6.300h-2.300v36.600h-7.600v-36.600h-2.300z" fill="#bdd3f8"/><circle cx="728.800" cy="98.300" r="2.300" fill="#bdd3f8"/><circle cx="726.700" cy="100" r="1.500" fill="#bdd3f8"/><circle cx="734" cy="104.300" r="1.800" fill="#bdd3f8"/><circle cx="736.300" cy="105" r="1.300" fill="#bdd3f8"/><path d="M735.400 110.0h-2" stroke="#9fbdf0" stroke-width=".3"/><path d="M735.400 113.5h-2" stroke="#9fbdf0" stroke-width=".3"/><path d="M735.400 117.0h-2" stroke="#9fbdf0" stroke-width=".3"/><path d="M735.400 120.5h-2" stroke="#9fbdf0" stroke-width=".3"/><path d="M735.400 124.0h-2" stroke="#9fbdf0" stroke-width=".3"/><path d="M735.400 127.5h-2" stroke="#9fbdf0" stroke-width=".3"/><path d="M735.400 131.0h-2" stroke="#9fbdf0" stroke-width=".3"/><path d="M735.400 134.5h-2" stroke="#9fbdf0" stroke-width=".3"/><path d="M735.400 138.0h-2" stroke="#9fbdf0" stroke-width=".3"/><path d="M721.300 113.500h4.300l.9 28.600h-6.400z" fill="#d9dbe0"/><path d="M718.200 143.300c.8-1.400 2-1.800 5.200-1.800s4.800.4 5.400 1.800z" fill="#c8cbd2"/><path d="M723 95.300c1.800 1.800 2.300 4.500 2.300 7.500v6.300h-4.600v-6.300c0-3 .5-5.700 2.300-7.500z" fill="#2f7cf0"/><path d="M720.700 105.500l-2 2.400v2.300l2-1.200zM725.300 105.500l2 2.400v2.300l-2-1.200z" fill="#20242c"/><circle cx="723" cy="101.200" r="1.100" fill="#20242c"/><path d="M721.600 109.300h2.800l-1.400 3.600z" fill="#7fb0f7"/><path d="M722.600 95.800l.4-.5.400.5v1h-.8z" fill="#20242c"/><circle cx="719.800" cy="122" r="1.100" fill="#bdd3f8"/><circle cx="726.500" cy="114.500" r="1" fill="#bdd3f8"/><circle cx="746.900" cy="103.400" r="4" fill="#cfe0fb"/><circle cx="746.900" cy="103.400" r="2.300" fill="#2f7cf0"/><path d="M745.900 103.400l.7.700 1.300-1.400" fill="none" stroke="#fff" stroke-width=".5"/><rect x="712.600" y="139.800" width="4.600" height="3.700" fill="#20242c"/><path d="M714.900 139.800c-2.600-2-2.800-5-2.200-7.600 1.400 1.200 2 2.600 2.200 4 0-2.800.5-5 1.600-6.800 1 2.400.8 4.600.2 6.400.7-1 1.500-1.600 2.600-1.900.2 2.800-1.500 4.900-3.400 5.900z" fill="#2f7cf0"/><circle cx="731.700" cy="124.300" r="2.300" fill="#f0a58a"/><path d="M729.200 123.800c-.3-2 1-3.200 2.600-3.200s2.900 1.200 2.500 3c-.8-.9-2-1.300-3-1.300-.9 0-1.600.6-2.100 1.500z" fill="#20242c"/><path d="M728.800 128.200c.6-.8 1.600-1 3-1s2.400.2 3 1l.6 5h-1v.5h-5.200v-.5h-1z" fill="#2f7cf0"/><path d="M728.500 132l-.3 4M735.200 132l.3 4" stroke="#f0a58a" stroke-width=".9" stroke-linecap="round"/><rect x="729.700" y="133.300" width="4.600" height="5.300" fill="#20242c"/><path d="M730.800 138.600v3.800M733.300 138.600v3.800" stroke="#f0a58a" stroke-width="1.100"/><path d="M729.800 142.700h2v.9h-2zM732.400 142.700h2v.9h-2z" fill="#20242c"/><circle cx="742.500" cy="112.200" r="2.400" fill="#f0a58a"/><path d="M739.300 112c-.6-2.600 1.200-4 3.300-4 2 0 3.500 1.400 3 3.400-.9-.3-1.700-.2-2.300.3l-.4 2.300c-.9.700-2 .7-2.600 0 .1-.9-.4-1.600-1-2z" fill="#20242c"/><path d="M741.300 115.700c3-1.300 6.300-1.300 8.300.5 1.700 2.200 2.600 5.600 3 9.400l-6.500 1.400c-.5-2.200-1.300-4-2.300-5l-.8 2.600-2.600-.8z" fill="#a9c6f5"/><path d="M741.600 120l-7 1.600" stroke="#f0a58a" stroke-width="1.100" stroke-linecap="round"/><path d="M743 124.200l-3.200 5.600" stroke="#f0a58a" stroke-width="1.100" stroke-linecap="round"/><path d="M746 126.400l6.700-1.300c1.300 2.400 1.400 5 .3 7.400l9.800 7.300 2.800.2-.3 2.600-14.200.6-2.800-10.600-6.300 1.600 3.600 8-2.300 1.100-6-9c-1.400-2.300-.4-4.200 1.500-5z" fill="#2f7cf0"/><path d="M745.900 126.100l6.900-1.400.2.900-6.900 1.400z" fill="#20242c"/><path d="M739.400 142.200l2.600-.9.600 1.400.2 1h-4.600c0-.8.500-1.300 1.200-1.500zM764.500 139.600l1.500-.6 1.800 3.500-.9.800z" fill="#20242c"/></svg>
<div class="card" style="left:1184.8px;top:343.0px;width:350.4px;height:369.8px"></div>
<div class="t" style="left:1197.8px;top:360.9px;font-size:13.56px;color:#1b1f27;-webkit-text-stroke:.5px #1b1f27">Recent Transactions</div>
<div class="abs" style="left:1465.4px;top:356.6px;width:56.4px;height:21.4px;background:#f3f4f7;border-radius:4px"></div>
<div class="t" style="left:1468.8px;top:361.9px;font-size:11.14px;color:#7a8494;letter-spacing:-0.28px">View All</div>
<svg style="left:1510.4px;top:363.2px" width="7.2" height="8.0" viewBox="755.2 181.6 3.6000000000000227 4.0" ><path d="M755.20 183.60h3.60M757.50 182.40l1.300 1.200-1.300 1.200" fill="none" stroke="#7a8494" stroke-width="0.5" stroke-linecap="round" stroke-linejoin="round"/></svg>
<div class="t" style="left:1238.0px;top:408.5px;font-size:11.65px;color:#1b1f27;-webkit-text-stroke:.5px #1b1f27">Wireless Headphones</div>
<div class="t" style="left:1238.0px;top:424.9px;font-size:11.94px;color:#a9b2c3;letter-spacing:-0.33px">2024-10-08, 14:35</div>
<div class="t" style="right:78.5px;top:409.2px;font-size:10.91px;color:#ef4d56;letter-spacing:-0.32px">$150.00</div>
<div class="t" style="right:83.9px;top:427.3px;font-size:9.24px;color:#2bd084;letter-spacing:-0.26px">Paid</div>
<div class="t" style="left:1238.0px;top:460.4px;font-size:11.65px;color:#1b1f27;-webkit-text-stroke:.5px #1b1f27">Smartwatch</div>
<div class="t" style="left:1238.0px;top:476.8px;font-size:11.94px;color:#a9b2c3;letter-spacing:-0.33px">2024-10-08, 13:20</div>
<div class="t" style="right:78.5px;top:461.1px;font-size:10.91px;color:#4d8ff5;letter-spacing:-0.32px">$275.50</div>
<div class="t" style="right:83.9px;top:479.2px;font-size:9.24px;color:#f59440;letter-spacing:-0.27px">Pending</div>
<div class="t" style="left:1238.0px;top:512.3px;font-size:11.65px;color:#1b1f27;-webkit-text-stroke:.5px #1b1f27">Gaming Laptop</div>
<div class="t" style="left:1238.0px;top:528.7px;font-size:11.94px;color:#a9b2c3;letter-spacing:-0.33px">2024-10-08, 12:05</div>
<div class="t" style="right:78.5px;top:513.0px;font-size:10.91px;color:#4d8ff5;letter-spacing:-0.32px">$250.00</div>
<div class="t" style="right:83.9px;top:531.1px;font-size:9.24px;color:#2bd084;letter-spacing:-0.26px">Paid</div>
<div class="t" style="left:1238.0px;top:564.2px;font-size:11.65px;color:#1b1f27;-webkit-text-stroke:.5px #1b1f27">Bluetooth Speaker</div>
<div class="t" style="left:1238.0px;top:580.6px;font-size:11.94px;color:#a9b2c3;letter-spacing:-0.32px">2024-10-08, 11:50</div>
<div class="t" style="right:78.5px;top:564.9px;font-size:10.91px;color:#a86eeb;letter-spacing:-0.32px">$120.00</div>
<div class="t" style="right:83.9px;top:583.0px;font-size:9.24px;color:#2bd084;letter-spacing:-0.26px">Paid</div>
<div class="t" style="left:1238.0px;top:616.1px;font-size:11.65px;color:#1b1f27;-webkit-text-stroke:.5px #1b1f27">Fitness Tracker</div>
<div class="t" style="left:1238.0px;top:632.5px;font-size:11.94px;color:#a9b2c3;letter-spacing:-0.33px">2024-10-08, 10:30</div>
<div class="t" style="right:78.5px;top:616.8px;font-size:10.91px;color:#4d8ff5;letter-spacing:-0.32px">$160.00</div>
<div class="t" style="right:83.8px;top:634.9px;font-size:9.24px;color:#ef4d56;letter-spacing:-0.24px">Failed</div>
<div class="t" style="left:1238.0px;top:668.0px;font-size:11.65px;color:#1b1f27;-webkit-text-stroke:.5px #1b1f27">DSLR Camera</div>
<div class="t" style="left:1238.0px;top:684.4px;font-size:11.94px;color:#a9b2c3;letter-spacing:-0.33px">2024-10-08, 14:35</div>
<div class="t" style="right:78.5px;top:668.7px;font-size:10.91px;color:#f59440;letter-spacing:-0.32px">$150.00</div>
<div class="t" style="right:83.9px;top:686.8px;font-size:9.24px;color:#2bd084;letter-spacing:-0.26px">Paid</div>
<svg style="left:1196.0px;top:400.0px" width="40.0" height="304.0" viewBox="598 200 20 152" ><defs><clipPath id="tc0"><circle cx="607.5" cy="211.0" r="8.4"/></clipPath></defs><g clip-path="url(#tc0)"><rect x="599.1" y="202.6" width="16.8" height="16.8" fill="#f08a5b"/><path d="M602.3 213.0c-.5-6 2-8.600 5.400-8.600s6 2.600 5.400 8.600" fill="none" stroke="#2a1538" stroke-width="1.700"/><ellipse cx="603.7" cy="214.0" rx="2.900" ry="3.900" fill="#2b1a55" transform="rotate(-12 603.7 214.0)"/><ellipse cx="611.7" cy="213.5" rx="2.800" ry="3.900" fill="#a1267e" transform="rotate(10 611.7 213.5)"/><ellipse cx="610.8" cy="213.5" rx="1.300" ry="3.200" fill="#5c1858" transform="rotate(10 610.8 213.5)"/></g><defs><clipPath id="tc1"><circle cx="607.5" cy="236.95" r="8.4"/></clipPath></defs><g clip-path="url(#tc1)"><rect x="599.1" y="228.54999999999998" width="16.8" height="16.8" fill="#9fc6d6"/><circle cx="605.5" cy="233.95" r="7" fill="#d8ecf3" opacity=".8"/><path d="M599.1 240.95h16.8v8.4h-16.8z" fill="#5f8b9c" opacity=".55"/><g transform="rotate(12 607.5 236.95)"><rect x="604.9" y="230.45" width="5.600" height="13" rx="1.300" fill="#23272e"/><rect x="604.2" y="233.75" width="7" height="6.600" rx="1.200" fill="#2d3742" stroke="#2f7cf0" stroke-width=".7"/></g></g><defs><clipPath id="tc2"><circle cx="607.5" cy="262.9" r="8.4"/></clipPath></defs><g clip-path="url(#tc2)"><rect x="599.1" y="254.49999999999997" width="16.8" height="16.8" fill="#e6aaa6"/><path d="M604.0 259.9l8 .8-1.200 5.800-8-1z" fill="#f6dfe2"/><path d="M604.8 260.79999999999995l6.400.7-.9 4.300-6.400-.8z" fill="#d98a9a"/><path d="M602.8 265.5l8 1 -3.500 3-8.600-1.600z" fill="#fbf3f3"/><path d="M598.9 267.9l8.400 1.600v.8l-8.400-1.600z" fill="#d9c5c5"/></g><defs><clipPath id="tc3"><circle cx="607.5" cy="288.85" r="8.4"/></clipPath></defs><g clip-path="url(#tc3)"><rect x="599.1" y="280.45000000000005" width="16.8" height="16.8" fill="#cfe0f8"/><rect x="604.5" y="282.25" width="6.300" height="13.200" rx=".8" fill="#0f2447"/><path d="M605.5 284.85c2-1.500 3.500-.5 4 1M605.5 289.85c1.500 2.500 3.300 2 4 .3M606.0 287.35l3.300 1" stroke="#e8eef8" stroke-width=".55" fill="none"/><circle cx="607.7" cy="292.35" r="1.400" fill="none" stroke="#b9c8e2" stroke-width=".5"/></g><defs><clipPath id="tc4"><circle cx="607.5" cy="314.8" r="8.4"/></clipPath></defs><g clip-path="url(#tc4)"><rect x="599.1" y="306.40000000000003" width="16.8" height="16.8" fill="#7fcdf5"/><circle cx="610.5" cy="318.8" r="6" fill="#a8e0fb" opacity=".7"/><rect x="605.2" y="307.8" width="4.600" height="14" rx="1.200" fill="#22262c"/><rect x="604.4" y="311.1" width="6.200" height="7.400" rx="1.300" fill="#2b2f36"/><rect x="605.3" y="312.1" width="4.400" height="5.400" rx=".7" fill="#49535f"/></g><defs><clipPath id="tc5"><circle cx="607.5" cy="340.75" r="8.4"/></clipPath></defs><g clip-path="url(#tc5)"><rect x="599.1" y="332.35" width="16.8" height="16.8" fill="#f9b961"/><rect x="602.5" y="337.55" width="10.600" height="8.200" rx="1.200" fill="#d9531e"/><rect x="603.7" y="336.15" width="3.600" height="1.800" rx=".5" fill="#e8703a"/><rect x="609.8" y="338.35" width="2.400" height="1.600" fill="#f6e3c8"/><circle cx="607.0" cy="342.05" r="3.300" fill="#f1e7da"/><circle cx="607.0" cy="342.05" r="2.300" fill="#3a4a4e"/><circle cx="607.0" cy="342.05" r="1.100" fill="#7f8d8c"/></g></svg>
<div class="card" style="left:1184.8px;top:735.4px;width:350.4px;height:320.0px"></div>
<div class="t" style="left:1197.8px;top:751.1px;font-size:13.56px;color:#1b1f27;-webkit-text-stroke:.5px #1b1f27">Visitors By Device</div>
<svg style="left:1200.0px;top:780.0px" width="320.0" height="220.0" viewBox="600 390 160 110" ><line x1="615.600" y1="495.40" x2="747.200" y2="495.40" stroke="#eef0f3" stroke-width=".5"/><line x1="615.600" y1="479.17" x2="747.200" y2="479.17" stroke="#eef0f3" stroke-width=".5"/><line x1="615.600" y1="462.94" x2="747.200" y2="462.94" stroke="#eef0f3" stroke-width=".5"/><line x1="615.600" y1="446.71" x2="747.200" y2="446.71" stroke="#eef0f3" stroke-width=".5"/><line x1="615.600" y1="430.48" x2="747.200" y2="430.48" stroke="#eef0f3" stroke-width=".5"/><line x1="615.600" y1="414.25" x2="747.200" y2="414.25" stroke="#eef0f3" stroke-width=".5"/><line x1="615.600" y1="398.02" x2="747.200" y2="398.02" stroke="#eef0f3" stroke-width=".5"/><rect x="625.4" y="454.82" width="13.200" height="40.58" fill="#5596f7"/><rect x="658.4" y="414.25" width="13.200" height="81.15" fill="#5596f7"/><rect x="691.4" y="446.71" width="13.200" height="48.69" fill="#5596f7"/><rect x="724.4" y="406.13" width="13.200" height="89.27" fill="#5596f7"/><path d="M750.700 393.700h6.300M750.700 395.600h6.300M750.700 397.500h6.300" stroke="#6b7686" stroke-width=".65"/></svg>
<div class="t" style="right:377.1px;top:987.4px;font-size:9.72px;color:#7d8797;letter-spacing:-0.31px">0</div>
<div class="t" style="right:377.1px;top:955.0px;font-size:9.72px;color:#7d8797;letter-spacing:-0.31px">10</div>
<div class="t" style="right:377.1px;top:922.5px;font-size:9.72px;color:#7d8797;letter-spacing:-0.31px">20</div>
<div class="t" style="right:377.1px;top:890.1px;font-size:9.72px;color:#7d8797;letter-spacing:-0.31px">30</div>
<div class="t" style="right:377.1px;top:857.6px;font-size:9.72px;color:#7d8797;letter-spacing:-0.31px">40</div>
<div class="t" style="right:377.1px;top:825.1px;font-size:9.72px;color:#7d8797;letter-spacing:-0.31px">50</div>
<div class="t" style="right:377.1px;top:792.7px;font-size:9.72px;color:#7d8797;letter-spacing:-0.31px">60</div>
<div class="t" style="left:1258.7px;top:948.2px;font-size:10.18px;color:#fff;font-weight:700;letter-spacing:-0.32px">25</div>
<div class="t" style="left:1324.7px;top:908.0px;font-size:10.18px;color:#fff;font-weight:700;letter-spacing:-0.32px">50</div>
<div class="t" style="left:1390.7px;top:939.4px;font-size:10.18px;color:#fff;font-weight:700;letter-spacing:-0.32px">30</div>
<div class="t" style="left:1456.7px;top:899.6px;font-size:10.18px;color:#fff;font-weight:700;letter-spacing:-0.32px">55</div>
<div class="t" style="left:1249.6px;top:1002.3px;font-size:10.4px;color:#7d8797;letter-spacing:-0.29px">Mobile</div>
<div class="t" style="left:1312.0px;top:1002.3px;font-size:10.4px;color:#7d8797;letter-spacing:-0.31px">Desktop</div>
<div class="t" style="left:1381.0px;top:1002.3px;font-size:10.4px;color:#7d8797;letter-spacing:-0.30px">Laptop</div>
<div class="t" style="left:1448.9px;top:1002.3px;font-size:10.4px;color:#7d8797;letter-spacing:-0.26px">Tablet</div>
<div class="card" style="left:1184.8px;top:1078.8px;width:350.4px;height:161.2px"></div>
<div class="t" style="left:1197.8px;top:1101.7px;font-size:13.56px;color:#1b1f27;-webkit-text-stroke:.5px #1b1f27">Transactions</div>
<div class="t" style="left:1472.6px;top:1102.9px;font-size:11.14px;color:#7a8494;letter-spacing:-0.28px">View All</div>
<svg style="left:1513.6px;top:1104.2px" width="6.8" height="8.0" viewBox="756.8 552.1 3.3999999999999773 4.0" ><path d="M756.80 554.10h3.40M758.90 552.90l1.300 1.200-1.300 1.200" fill="none" stroke="#7a8494" stroke-width="0.5" stroke-linecap="round" stroke-linejoin="round"/></svg>
<div class="abs" style="left:1199.0px;top:1147.8px;width:22.0px;height:22.2px;background:#e9f0fd;border-radius:4px"></div>
<svg style="left:1199.0px;top:1147.8px" width="22.0" height="22.2" viewBox="599.5 573.9 11.0 11.100000000000023" ><path d="M604.300 577.300h2.100c1.300 0 2 .7 2 1.700s-.8 1.900-2.100 1.900h-.9l-.4 1.900h-1.300z" fill="#9cc2fb"/><path d="M603.200 576.400h2.200c1.300 0 2 .7 2 1.700s-.8 1.900-2.100 1.900h-.9l-.4 1.900h-1.300z" fill="#4d8ff5"/></svg>
<div class="t" style="left:1227.8px;top:1150.0px;font-size:12.64px;color:#1b1f27;-webkit-text-stroke:.3px #1b1f27;letter-spacing:-0.34px">Paypal ****2783</div>
<div class="t" style="left:1227.8px;top:1169.9px;font-size:10.0px;color:#8ea0c0;letter-spacing:-0.27px">24 Jul 2024 at 2:45PM</div>
<div class="t" style="right:78.6px;top:1150.2px;font-size:12.67px;color:#1b1f27;-webkit-text-stroke:.35px #1b1f27;letter-spacing:-0.37px">$12,300</div>
<div class="t" style="right:78.5px;top:1167.7px;font-size:10.48px;color:#2bd084;letter-spacing:-0.30px">Paid</div>
<div class="abs" style="left:1199.0px;top:1193.2px;width:22.0px;height:20.8px;background:#f3e9fc;border-radius:4px"></div>
<div class="t" style="left:1227.8px;top:1197.1px;font-size:13.17px;color:#1b1f27;letter-spacing:-0.31px">Digital Wallet</div>
<div class="t" style="right:78.6px;top:1197.4px;font-size:12.67px;color:#1b1f27;letter-spacing:-0.37px">$1,445</div>
<div class="card" style="left:67.0px;top:686.4px;width:350.6px;height:372.8px"></div>
<div class="t" style="left:80.8px;top:707.7px;font-size:13.58px;color:#1b1f27;-webkit-text-stroke:.5px #1b1f27">Visitors By Countries</div>
<div class="abs" style="left:332.8px;top:700.8px;width:68.8px;height:24.8px;background:#e4eefd;border-radius:4px"></div>
<div class="t" style="left:341.2px;top:708.5px;font-size:11.14px;color:#4d8ff5;letter-spacing:-0.28px">View All</div>
<svg style="left:382.0px;top:708.0px" width="14.0" height="12.0" viewBox="191 354 7 6" ><path d="M193.400 355.400l-1.300 1.300 1.300 1.300M195.100 355.400l1.300 1.300-1.300 1.300" fill="none" stroke="#4d8ff5" stroke-width=".5" stroke-linecap="round" stroke-linejoin="round"/></svg>
<div class="t" style="left:82.2px;top:759.7px;font-size:13.26px;color:#1b1f27;letter-spacing:-0.36px">Countries</div>
<div class="t" style="left:231.2px;top:759.7px;font-size:13.26px;color:#1b1f27;letter-spacing:-0.38px">Percentage</div>
<div class="t" style="left:344.6px;top:759.7px;font-size:13.26px;color:#1b1f27;letter-spacing:-0.31px">Visitors</div>
<div class="abs" style="left:67.0px;top:787.0px;width:350.6px;height:1.0px;background:#f0f2f5;border-radius:0px"></div>
<div class="t" style="left:105.4px;top:801.9px;font-size:12.39px;color:#2b323d;letter-spacing:-0.32px">United States</div>
<div class="t" style="left:231.4px;top:801.6px;font-size:12.62px;color:#2bd084;letter-spacing:-0.40px">24.23%</div>
<svg style="left:277.0px;top:801.2px" width="8.0" height="12.0" viewBox="138.5 400.6 4.0 6.0" ><path d="M140.5 404.90v-2.600M139.3 403.40l1.200-1.200 1.200 1.200" fill="none" stroke="#2bd084" stroke-width=".7" stroke-linecap="round" stroke-linejoin="round"/></svg>
<div class="t" style="left:345.0px;top:801.7px;font-size:11.99px;color:#1b1f27;-webkit-text-stroke:.3px #1b1f27;letter-spacing:-0.35px">32,190</div>
<div class="abs" style="left:67.0px;top:831.2px;width:350.6px;height:1.0px;background:#f0f2f5;border-radius:0px"></div>
<div class="t" style="left:105.4px;top:846.5px;font-size:12.39px;color:#2b323d;letter-spacing:-0.33px">Argentina</div>
<div class="t" style="left:231.4px;top:846.2px;font-size:12.62px;color:#ef4d56;letter-spacing:-0.40px">12.45%</div>
<svg style="left:275.0px;top:845.8px" width="8.0" height="12.0" viewBox="137.5 422.88 4.0 6.0" ><path d="M139.5 424.58v2.600M138.3 426.08l1.200 1.200 1.200-1.200" fill="none" stroke="#ef4d56" stroke-width=".7" stroke-linecap="round" stroke-linejoin="round"/></svg>
<div class="t" style="left:345.0px;top:846.3px;font-size:11.99px;color:#1b1f27;-webkit-text-stroke:.3px #1b1f27;letter-spacing:-0.35px">123/985</div>
<div class="abs" style="left:67.0px;top:875.4px;width:350.6px;height:1.0px;background:#f0f2f5;border-radius:0px"></div>
<div class="t" style="left:105.4px;top:891.0px;font-size:12.39px;color:#2b323d;letter-spacing:-0.41px">Canada</div>
<div class="t" style="left:231.4px;top:890.7px;font-size:12.62px;color:#2bd084;letter-spacing:-0.40px">06.64%</div>
<svg style="left:277.0px;top:890.3px" width="8.0" height="12.0" viewBox="138.5 445.16 4.0 6.0" ><path d="M140.5 449.46v-2.600M139.3 447.96l1.200-1.200 1.200 1.200" fill="none" stroke="#2bd084" stroke-width=".7" stroke-linecap="round" stroke-linejoin="round"/></svg>
<div class="t" style="left:345.0px;top:890.8px;font-size:11.99px;color:#1b1f27;-webkit-text-stroke:.3px #1b1f27;letter-spacing:-0.35px">10,397</div>
<div class="abs" style="left:67.0px;top:919.6px;width:350.6px;height:1.0px;background:#f0f2f5;border-radius:0px"></div>
<div class="t" style="left:105.4px;top:935.6px;font-size:12.39px;color:#2b323d;letter-spacing:-0.30px">India</div>
<div class="t" style="left:231.4px;top:935.3px;font-size:12.62px;color:#2bd084;letter-spacing:-0.40px">14.42%</div>
<svg style="left:277.0px;top:934.9px" width="8.0" height="12.0" viewBox="138.5 467.44000000000005 4.0 6.0" ><path d="M140.5 471.74v-2.600M139.3 470.24l1.200-1.200 1.200 1.200" fill="none" stroke="#2bd084" stroke-width=".7" stroke-linecap="round" stroke-linejoin="round"/></svg>
<div class="t" style="left:345.0px;top:935.4px;font-size:11.99px;color:#1b1f27;-webkit-text-stroke:.3px #1b1f27;letter-spacing:-0.35px">18,694</div>
<div class="abs" style="left:67.0px;top:963.8px;width:350.6px;height:1.0px;background:#f0f2f5;border-radius:0px"></div>
<div class="t" style="left:105.4px;top:980.1px;font-size:12.39px;color:#2b323d;letter-spacing:-0.26px">Italy</div>
<div class="t" style="left:231.4px;top:979.8px;font-size:12.62px;color:#2bd084;letter-spacing:-0.40px">06.64%</div>
<svg style="left:277.0px;top:979.4px" width="8.0" height="12.0" viewBox="138.5 489.72 4.0 6.0" ><path d="M140.5 494.02v-2.600M139.3 492.52l1.200-1.200 1.200 1.200" fill="none" stroke="#2bd084" stroke-width=".7" stroke-linecap="round" stroke-linejoin="round"/></svg>
<div class="t" style="left:345.0px;top:979.9px;font-size:11.99px;color:#1b1f27;-webkit-text-stroke:.3px #1b1f27;letter-spacing:-0.35px">15,386</div>
<div class="abs" style="left:67.0px;top:1008.0px;width:350.6px;height:1.0px;background:#f0f2f5;border-radius:0px"></div>
<div class="t" style="left:105.4px;top:1024.7px;font-size:12.39px;color:#2b323d;letter-spacing:-0.41px">Germany</div>
<div class="t" style="left:231.4px;top:1024.4px;font-size:12.62px;color:#2bd084;letter-spacing:-0.40px">06.64%</div>
<svg style="left:277.0px;top:1024.0px" width="8.0" height="12.0" viewBox="138.5 512.0 4.0 6.0" ><path d="M140.5 516.30v-2.600M139.3 514.80l1.200-1.200 1.200 1.200" fill="none" stroke="#2bd084" stroke-width=".7" stroke-linecap="round" stroke-linejoin="round"/></svg>
<div class="t" style="left:345.0px;top:1024.5px;font-size:11.99px;color:#1b1f27;-webkit-text-stroke:.3px #1b1f27;letter-spacing:-0.35px">17,479</div>
<svg style="left:80.0px;top:796.0px" width="20.0" height="248.0" viewBox="40 398 10 124" ><defs><clipPath id="fl0"><circle cx="45" cy="403.6" r="4.2"/></clipPath></defs><g clip-path="url(#fl0)"><rect x="40.8" y="399.40000000000003" width="8.4" height="8.4" fill="#f5f5f7"/><rect x="40.8" y="399.40" width="8.4" height="1.20" fill="#e3405f"/><rect x="40.8" y="401.80" width="8.4" height="1.20" fill="#e3405f"/><rect x="40.8" y="404.20" width="8.4" height="1.20" fill="#e3405f"/><rect x="40.8" y="406.60" width="8.4" height="1.20" fill="#e3405f"/><rect x="40.8" y="399.40000000000003" width="4.20" height="4.62" fill="#3f51a3"/></g><defs><clipPath id="fl1"><circle cx="45" cy="425.88" r="4.2"/></clipPath></defs><g clip-path="url(#fl1)"><rect x="40.8" y="421.68" width="8.4" height="8.4" fill="#f7f8fa"/><rect x="40.8" y="421.68" width="8.4" height="2.80" fill="#5aa9e8"/><rect x="40.8" y="427.28" width="8.4" height="2.80" fill="#5aa9e8"/><circle cx="45" cy="425.88" r=".9" fill="#f2b13c"/></g><defs><clipPath id="fl2"><circle cx="45" cy="448.16" r="4.2"/></clipPath></defs><g clip-path="url(#fl2)"><rect x="40.8" y="443.96000000000004" width="8.4" height="8.4" fill="#fff"/><rect x="40.8" y="443.96000000000004" width="2.27" height="8.4" fill="#e21b2d"/><rect x="46.93" y="443.96000000000004" width="2.27" height="8.4" fill="#e21b2d"/><path d="M45 445.96000000000004l.8 1.300.9-.3-.3 1.600 1-.2-.9 1.500h-1.200v.9h-.6v-.9h-1.200l-.9-1.500 1 .2-.3-1.600.9.300z" fill="#e21b2d"/></g><defs><clipPath id="fl3"><circle cx="45" cy="470.44000000000005" r="4.2"/></clipPath></defs><g clip-path="url(#fl3)"><rect x="40.8" y="466.24000000000007" width="8.4" height="8.4" fill="#fff"/><rect x="40.8" y="466.24000000000007" width="8.4" height="2.80" fill="#f4913a"/><rect x="40.8" y="471.84" width="8.4" height="2.80" fill="#1f8a3b"/><circle cx="45" cy="470.44000000000005" r=".9" fill="none" stroke="#29358f" stroke-width=".35"/></g><defs><clipPath id="fl4"><circle cx="45" cy="492.72" r="4.2"/></clipPath></defs><g clip-path="url(#fl4)"><rect x="40.8" y="488.52000000000004" width="8.4" height="8.4" fill="#f5f5f5"/><rect x="40.8" y="488.52000000000004" width="2.80" height="8.4" fill="#2f9e4e"/><rect x="46.40" y="488.52000000000004" width="2.80" height="8.4" fill="#dd3442"/></g><defs><clipPath id="fl5"><circle cx="45" cy="515.0" r="4.2"/></clipPath></defs><g clip-path="url(#fl5)"><rect x="40.8" y="510.8" width="8.4" height="2.80" fill="#2a2a2a"/><rect x="40.8" y="513.60" width="8.4" height="2.80" fill="#dc2b2b"/><rect x="40.8" y="516.40" width="8.4" height="2.80" fill="#f6b73c"/></g></svg>
<div class="card" style="left:439.6px;top:686.4px;width:350.6px;height:372.4px"></div>
<div class="t" style="left:453.2px;top:702.5px;font-size:13.18px;color:#1b1f27;-webkit-text-stroke:.5px #1b1f27;letter-spacing:-0.00px">Sales Summary</div>
<div class="t" style="left:721.2px;top:703.7px;font-size:10.8px;color:#9aa4b5;letter-spacing:-0.29px">Sort By</div>
<svg style="left:760.0px;top:704.0px" width="12.0" height="10.0" viewBox="380 352 6 5" ><path d="M381.200 354.100l1.300 1.300 1.300-1.300" fill="none" stroke="#6b9bf0" stroke-width=".6" stroke-linecap="round" stroke-linejoin="round"/></svg>
<svg style="left:510.0px;top:744.0px" width="210.0" height="208.0" viewBox="255 372 105 104" ><circle cx="307.4" cy="424.4" r="12.0" fill="none" stroke="#ececef" stroke-width=".5"/><circle cx="307.4" cy="424.4" r="24.0" fill="none" stroke="#ececef" stroke-width=".5"/><circle cx="307.4" cy="424.4" r="36.0" fill="none" stroke="#ececef" stroke-width=".5"/><circle cx="307.4" cy="424.4" r="48.0" fill="none" stroke="#ececef" stroke-width=".5"/><line x1="307.4" y1="424.4" x2="307.40" y2="376.40" stroke="#ececef" stroke-width=".5"/><line x1="307.4" y1="424.4" x2="348.97" y2="400.40" stroke="#ececef" stroke-width=".5"/><line x1="307.4" y1="424.4" x2="348.97" y2="448.40" stroke="#ececef" stroke-width=".5"/><line x1="307.4" y1="424.4" x2="307.40" y2="472.40" stroke="#ececef" stroke-width=".5"/><line x1="307.4" y1="424.4" x2="265.83" y2="448.40" stroke="#ececef" stroke-width=".5"/><line x1="307.4" y1="424.4" x2="265.83" y2="400.40" stroke="#ececef" stroke-width=".5"/><path d="M307.4 424.4L307.40 390.80A33.60 33.60 0 0 1 336.50 407.60Z" fill="#5596f7" stroke="#fff" stroke-width=".8" stroke-linejoin="round"/><path d="M307.4 424.4L344.81 402.80A43.20 43.20 0 0 1 344.81 446.00Z" fill="#c497f3" stroke="#fff" stroke-width=".8" stroke-linejoin="round"/><path d="M307.4 424.4L342.73 444.80A40.80 40.80 0 0 1 307.40 465.20Z" fill="#67dfa5" stroke="#fff" stroke-width=".8" stroke-linejoin="round"/><path d="M307.4 424.4L307.40 460.40A36.00 36.00 0 0 1 276.22 442.40Z" fill="#f29cc7" stroke="#fff" stroke-width=".8" stroke-linejoin="round"/><path d="M307.4 424.4L282.46 438.80A28.80 28.80 0 0 1 282.46 410.00Z" fill="#e6738a" stroke="#fff" stroke-width=".8" stroke-linejoin="round"/><path d="M307.4 424.4L287.24 412.76A23.28 23.28 0 0 1 307.40 401.12Z" fill="#fba05c" stroke="#fff" stroke-width=".8" stroke-linejoin="round"/></svg>
<div class="t" style="left:609.9px;top:749.4px;font-size:9.33px;color:#2b323d;font-weight:700;letter-spacing:-0.29px;transform:scaleY(1.15);transform-origin:50% 50%">20</div>
<div class="t" style="left:609.9px;top:773.4px;font-size:9.33px;color:#2b323d;font-weight:700;letter-spacing:-0.29px;transform:scaleY(1.15);transform-origin:50% 50%">15</div>
<div class="abs" style="left:439.6px;top:969.8px;width:350.6px;height:1.0px;background:#eef0f4;border-radius:0px"></div>
<div class="abs" style="left:456.4px;top:985.4px;width:22.4px;height:22.4px;background:#e6effd;border-radius:3px"></div>
<svg style="left:456.4px;top:985.4px" width="22.4" height="22.4" viewBox="228.2 492.7 11.199999999999989 11.199999999999989" ><path d="M233.79999999999998 495.5l2.500 1.400v2.800l-2.500 1.400-2.500-1.400v-2.800zM231.29999999999998 496.90000000000003l2.500 1.400 2.500-1.400M233.79999999999998 498.3v2.800" stroke="#5596f7" fill="none" stroke-width=".6" stroke-linecap="round" stroke-linejoin="round"/></svg>
<div class="t" style="left:486.4px;top:990.3px;font-size:12.44px;color:#3d4450;letter-spacing:-0.33px">Delivered</div>
<div class="t" style="right:995.8px;top:990.8px;font-size:14.24px;color:#1b1f27;-webkit-text-stroke:.3px #1b1f27;letter-spacing:-0.41px">1,754</div>
<div class="abs" style="left:456.4px;top:1021.8px;width:22.4px;height:22.4px;background:#e2f7ec;border-radius:3px"></div>
<svg style="left:456.4px;top:1021.8px" width="22.4" height="22.4" viewBox="228.2 510.9 11.199999999999989 11.200000000000045" ><path d="M231.79999999999998 513.7h2.600l1.600 1.600v3.400a.6.600 0 0 1-.6.600h-3.600a.6.600 0 0 1-.6-.6v-4.400a.6.600 0 0 1 .6-.6z" stroke="#2bd084" fill="none" stroke-width=".6" stroke-linecap="round" stroke-linejoin="round"/><path d="M232.99999999999997 516.8l.7.700 1.200-1.300" stroke="#2bd084" fill="none" stroke-width=".6" stroke-linecap="round" stroke-linejoin="round"/></svg>
<div class="t" style="left:486.4px;top:1026.7px;font-size:12.44px;color:#3d4450;letter-spacing:-0.37px">Pending</div>
<div class="t" style="right:995.9px;top:1027.2px;font-size:14.24px;color:#1b1f27;-webkit-text-stroke:.3px #1b1f27;letter-spacing:-0.45px">873</div>
<div class="abs" style="left:625.2px;top:985.4px;width:22.4px;height:22.4px;background:#f0e8fc;border-radius:3px"></div>
<svg style="left:625.2px;top:985.4px" width="22.4" height="22.4" viewBox="312.6 492.7 11.199999999999989 11.199999999999989" ><circle cx="318.20000000000005" cy="498.3" r="2.800" stroke="#a86eeb" fill="none" stroke-width=".6" stroke-linecap="round" stroke-linejoin="round"/><circle cx="318.20000000000005" cy="498.3" r=".9" fill="#a86eeb"/></svg>
<div class="t" style="left:655.8px;top:990.3px;font-size:12.44px;color:#3d4450;letter-spacing:-0.35px">Cancelled</div>
<div class="t" style="right:827.2px;top:990.8px;font-size:14.24px;color:#1b1f27;-webkit-text-stroke:.3px #1b1f27;letter-spacing:-0.41px">1,234</div>
<div class="abs" style="left:625.2px;top:1021.8px;width:22.4px;height:22.4px;background:#fde7f1;border-radius:3px"></div>
<svg style="left:625.2px;top:1021.8px" width="22.4" height="22.4" viewBox="312.6 510.9 11.199999999999989 11.200000000000045" ><path d="M316.70000000000005 519.1v-4.200M315.50000000000006 515.9l1.200-1.200 1.200 1.200M319.70000000000005 513.9v4.200M318.50000000000006 517.1l1.200 1.200 1.200-1.200" stroke="#f06aaa" fill="none" stroke-width=".6" stroke-linecap="round" stroke-linejoin="round"/></svg>
<div class="t" style="left:655.8px;top:1026.7px;font-size:12.44px;color:#3d4450;letter-spacing:-0.36px">Returned</div>
<div class="t" style="right:827.3px;top:1027.2px;font-size:14.24px;color:#1b1f27;-webkit-text-stroke:.3px #1b1f27;letter-spacing:-0.45px">270</div>
<div class="card" style="left:812.2px;top:686.4px;width:351.2px;height:372.0px"></div>
<div class="t" style="left:825.8px;top:704.6px;font-size:13.89px;color:#1b1f27;-webkit-text-stroke:.5px #1b1f27;letter-spacing:-0.00px">Overall Statistics</div>
<div class="abs" style="left:1098.0px;top:699.0px;width:51.8px;height:23.8px;background:#f3f4f7;border-radius:4px"></div>
<div class="t" style="left:1105.6px;top:705.9px;font-size:11.14px;color:#7a8494;letter-spacing:-0.28px">View All</div>
<div class="abs" style="left:826.6px;top:737.2px;width:322.8px;height:305.2px;background:#fff;border-radius:5px;border:1px solid #eef0f4"></div>
<div class="abs" style="left:826.6px;top:796.5px;width:322.8px;height:1.0px;background:#eef0f4;border-radius:0px"></div>
<div class="abs" style="left:826.6px;top:858.1px;width:322.8px;height:1.0px;background:#eef0f4;border-radius:0px"></div>
<div class="abs" style="left:826.6px;top:919.3px;width:322.8px;height:1.0px;background:#eef0f4;border-radius:0px"></div>
<div class="abs" style="left:826.6px;top:980.1px;width:322.8px;height:1.0px;background:#eef0f4;border-radius:0px"></div>
<svg style="left:1040.0px;top:740.0px" width="110.0" height="300.0" viewBox="520 370 55 150" ><path d="M527.19 386.80C528.01 386.50 530.56 385.04 532.14 385.00C533.71 384.97 535.21 386.02 536.64 386.58C538.06 387.14 539.38 389.02 540.69 388.38C542.00 387.74 543.31 384.55 544.51 382.75C545.71 380.95 546.76 378.14 547.89 377.58C549.01 377.02 550.03 378.40 551.26 379.38C552.50 380.35 554.00 383.05 555.32 383.43C556.63 383.80 557.94 382.12 559.14 381.63C560.34 381.14 561.39 380.43 562.52 380.50C563.64 380.58 564.84 381.44 565.89 382.08C566.94 382.72 568.33 383.95 568.82 384.33" fill="none" stroke="#5596f7" stroke-width=".75" stroke-linecap="round"/><path d="M527.19 419.21C527.82 418.57 529.81 416.32 531.01 415.38C532.21 414.44 533.26 413.66 534.39 413.58C535.51 413.51 536.71 414.56 537.76 414.93C538.81 415.31 539.56 416.13 540.69 415.83C541.81 415.53 543.31 413.96 544.51 413.13C545.71 412.31 546.76 410.99 547.89 410.88C549.01 410.77 550.14 411.71 551.26 412.46C552.39 413.21 553.51 415.65 554.64 415.38C555.77 415.12 556.89 412.27 558.02 410.88C559.14 409.49 560.38 407.43 561.39 407.06C562.40 406.68 563.23 407.24 564.09 408.63C564.95 410.02 565.78 413.62 566.57 415.38C567.35 417.15 568.44 418.57 568.82 419.21" fill="none" stroke="#a86eeb" stroke-width=".75" stroke-linecap="round"/><path d="M527.19 444.18C527.82 444.89 529.81 447.36 531.01 448.45C532.21 449.54 533.26 450.85 534.39 450.70C535.51 450.55 536.64 448.64 537.76 447.55C538.89 446.46 540.01 444.48 541.14 444.18C542.26 443.88 543.39 445.11 544.51 445.75C545.64 446.39 546.76 448.30 547.89 448.00C549.01 447.70 550.14 445.34 551.26 443.95C552.39 442.56 553.51 440.31 554.64 439.68C555.77 439.04 556.70 439.79 558.02 440.13C559.33 440.46 560.72 441.25 562.52 441.70C564.32 442.15 567.77 442.64 568.82 442.83" fill="none" stroke="#26cf86" stroke-width=".75" stroke-linecap="round"/><path d="M527.19 482.21C527.82 481.57 529.89 479.32 531.01 478.38C532.14 477.44 532.81 476.39 533.94 476.58C535.06 476.77 536.64 478.72 537.76 479.50C538.89 480.29 539.56 481.61 540.69 481.31C541.81 481.01 543.31 478.75 544.51 477.70C545.71 476.65 546.76 475.27 547.89 475.00C549.01 474.74 550.14 475.75 551.26 476.13C552.39 476.50 553.51 477.52 554.64 477.25C555.77 476.99 556.82 475.42 558.02 474.55C559.22 473.69 560.72 472.08 561.84 472.08C562.97 472.08 563.60 473.39 564.77 474.55C565.93 475.72 568.14 478.30 568.82 479.05" fill="none" stroke="#f06aaa" stroke-width=".75" stroke-linecap="round"/><path d="M527.19 509.88C527.82 508.87 529.81 505.31 531.01 503.81C532.21 502.31 533.26 500.43 534.39 500.88C535.51 501.33 536.71 504.82 537.76 506.51C538.81 508.20 539.56 511.31 540.69 511.01C541.81 510.71 543.24 506.40 544.51 504.71C545.79 503.02 547.03 500.96 548.34 500.88C549.65 500.81 551.15 503.32 552.39 504.26C553.63 505.20 554.64 506.51 555.77 506.51C556.89 506.51 558.02 504.74 559.14 504.26C560.27 503.77 561.39 503.32 562.52 503.58C563.64 503.84 564.84 505.16 565.89 505.83C566.94 506.51 568.33 507.33 568.82 507.63" fill="none" stroke="#f59440" stroke-width=".75" stroke-linecap="round"/></svg>
<div class="t" style="left:838.0px;top:750.4px;font-size:11.82px;color:#9aa4b5;letter-spacing:-0.32px">Total Expenses</div>
<div class="t" style="left:838.0px;top:769.8px;font-size:14.95px;color:#1b1f27;-webkit-text-stroke:.3px #1b1f27;letter-spacing:-0.44px">$134,032</div>
<div class="t" style="left:904.0px;top:771.9px;font-size:11.97px;color:#2bd084;letter-spacing:-0.39px">0.45%</div>
<svg style="left:940.6px;top:772.2px" width="10.0" height="10.0" viewBox="470.3 386.1 5.0 5.0" ><path d="M470.50 389.80l1.400-1.300.9.700 1.800-1.700M473.40 387.50h1.300v1.300" fill="none" stroke="#2bd084" stroke-width=".55" stroke-linecap="round" stroke-linejoin="round"/></svg>
<div class="t" style="left:838.0px;top:811.2px;font-size:11.82px;color:#9aa4b5;letter-spacing:-0.34px">General Leads</div>
<div class="t" style="left:838.0px;top:830.8px;font-size:14.95px;color:#1b1f27;-webkit-text-stroke:.3px #1b1f27;letter-spacing:-0.43px">74,354</div>
<div class="t" style="left:887.4px;top:832.9px;font-size:11.97px;color:#ef4d56;letter-spacing:-0.39px">3.84%</div>
<svg style="left:923.6px;top:833.2px" width="10.0" height="10.0" viewBox="461.8 416.6 5.0 5.0" ><path d="M462.00 417.90l1.400 1.300.9-.7 1.800 1.700M464.90 420.20h1.300v-1.300" fill="none" stroke="#ef4d56" stroke-width=".55" stroke-linecap="round" stroke-linejoin="round"/></svg>
<div class="t" style="left:838.0px;top:872.8px;font-size:11.82px;color:#9aa4b5;letter-spacing:-0.34px">Churn Rate</div>
<div class="t" style="left:838.0px;top:892.2px;font-size:14.95px;color:#1b1f27;-webkit-text-stroke:.3px #1b1f27;letter-spacing:-0.48px">6.02%</div>
<div class="t" style="left:887.4px;top:894.3px;font-size:11.97px;color:#2bd084;letter-spacing:-0.39px">0.72%</div>
<svg style="left:923.6px;top:894.6px" width="10.0" height="10.0" viewBox="461.8 447.3 5.0 5.0" ><path d="M462.00 451.00l1.400-1.300.9.700 1.800-1.700M464.90 448.70h1.300v1.300" fill="none" stroke="#2bd084" stroke-width=".55" stroke-linecap="round" stroke-linejoin="round"/></svg>
<div class="t" style="left:838.0px;top:934.4px;font-size:11.82px;color:#9aa4b5;letter-spacing:-0.36px">New Users</div>
<div class="t" style="left:838.0px;top:953.6px;font-size:14.95px;color:#1b1f27;-webkit-text-stroke:.3px #1b1f27;letter-spacing:-0.43px">7,893</div>
<div class="t" style="left:878.8px;top:955.7px;font-size:11.97px;color:#2bd084;letter-spacing:-0.38px">11.05%</div>
<svg style="left:917.6px;top:956.0px" width="10.0" height="10.0" viewBox="458.8 478.0 5.0 5.0" ><path d="M459.00 481.70l1.400-1.300.9.700 1.800-1.700M461.90 479.40h1.300v1.300" fill="none" stroke="#2bd084" stroke-width=".55" stroke-linecap="round" stroke-linejoin="round"/></svg>
<div class="t" style="left:838.0px;top:995.6px;font-size:11.82px;color:#9aa4b5;letter-spacing:-0.32px">Returning Users</div>
<div class="t" style="left:838.0px;top:1014.6px;font-size:14.95px;color:#1b1f27;-webkit-text-stroke:.3px #1b1f27;letter-spacing:-0.43px">3,258</div>
<div class="t" style="left:880.6px;top:1016.7px;font-size:11.97px;color:#2bd084;letter-spacing:-0.39px">1.69%</div>
<svg style="left:913.6px;top:1017.0px" width="10.0" height="10.0" viewBox="456.8 508.5 5.0 5.0" ><path d="M457.00 512.20l1.400-1.300.9.700 1.800-1.700M459.90 509.90h1.300v1.300" fill="none" stroke="#2bd084" stroke-width=".55" stroke-linecap="round" stroke-linejoin="round"/></svg>
<div class="card" style="left:67.0px;top:1079.2px;width:1096.4px;height:160.8px"></div>
<div class="t" style="left:81.0px;top:1098.7px;font-size:13.69px;color:#1b1f27;-webkit-text-stroke:.5px #1b1f27;letter-spacing:-0.00px">Recent Orders</div>
<div class="abs" style="left:941.0px;top:1093.5px;width:138.0px;height:24.0px;background:#fff;border-radius:4px;border:1px solid #e6ecfa"></div>
<div class="t" style="left:953.0px;top:1100.1px;font-size:11.52px;color:#7a8494;letter-spacing:-0.33px">Search Here</div>
<div class="abs" style="left:1086.5px;top:1093.5px;width:63.5px;height:24.0px;background:#5596f7;border-radius:4px"></div>
<div class="t" style="left:1094.0px;top:1100.8px;font-size:10.28px;color:#fff;font-weight:700;letter-spacing:-0.29px">Sort By</div>
<svg style="left:1132.0px;top:1100.0px" width="12.0" height="12.0" viewBox="566 550 6 6" ><path d="M567.400 552l1.350 1.350 1.350-1.350" fill="none" stroke="#fff" stroke-width=".65" stroke-linecap="round" stroke-linejoin="round"/></svg>
<div class="t" style="left:82.5px;top:1143.2px;font-size:12.97px;color:#1b1f27;letter-spacing:-0.40px">Customer</div>
<div class="t" style="left:284.0px;top:1143.2px;font-size:12.97px;color:#1b1f27;letter-spacing:-0.36px">Products</div>
<div class="t" style="left:471.0px;top:1143.2px;font-size:12.97px;color:#1b1f27;letter-spacing:-0.37px">Ordered Date</div>
<div class="t" style="left:616.0px;top:1143.2px;font-size:12.97px;color:#1b1f27;letter-spacing:-0.34px">Status</div>
<div class="t" style="left:728.5px;top:1143.2px;font-size:12.97px;color:#1b1f27;letter-spacing:-0.35px">Total Amount</div>
<div class="t" style="left:867.5px;top:1143.2px;font-size:12.97px;color:#1b1f27;letter-spacing:-0.39px">Payment Method</div>
<div class="t" style="left:1056.0px;top:1143.2px;font-size:12.97px;color:#1b1f27;letter-spacing:-0.34px">Actions</div>
<div class="abs" style="left:67.0px;top:1167.0px;width:1096.4px;height:1.0px;background:#f0f2f5;border-radius:0px"></div>
<div class="abs" style="left:82.5px;top:1179.0px;width:32.5px;height:33.0px;background:#e9f0fd;border-radius:4px"></div>
<div class="t" style="left:92.4px;top:1190.2px;font-size:11.45px;color:#4d8ff5;-webkit-text-stroke:.3px #4d8ff5;letter-spacing:0.00px">JD</div>
<div class="t" style="left:122.5px;top:1182.4px;font-size:11.1px;color:#1b1f27;-webkit-text-stroke:.5px #1b1f27">John Doe</div>
<div class="t" style="left:122.5px;top:1198.3px;font-size:10.07px;color:#a9b2c3;letter-spacing:-0.32px">john@example.com</div>
<svg style="left:280.0px;top:1180.0px" width="28.0" height="28.0" viewBox="140 590 14 14" ><defs><clipPath id="ww"><circle cx="147" cy="596.900" r="5.600"/></clipPath></defs><g clip-path="url(#ww)"><rect x="140" y="590" width="14" height="14" fill="#a5e4f4"/><rect x="145.300" y="592" width="3.400" height="12" rx=".8" fill="#1d2229"/><rect x="144.700" y="594.600" width="4.600" height="6" rx="1" fill="#262c35"/></g></svg>
<div class="t" style="left:315.0px;top:1190.2px;font-size:11.1px;color:#1b1f27;-webkit-text-stroke:.5px #1b1f27">Wrist Watch</div>
<div class="t" style="left:471.0px;top:1181.3px;font-size:13.2px;color:#1b1f27;-webkit-text-stroke:.5px #1b1f27">2024-10-05</div>
<div class="t" style="left:471.0px;top:1198.3px;font-size:10.07px;color:#8ea0c0;letter-spacing:-0.33px">10:45PM</div>
<div class="abs" style="left:616.0px;top:1188.6px;width:44.4px;height:17.4px;background:#5596f7;border-radius:3px"></div>
<div class="t" style="left:623.2px;top:1192.2px;font-size:7.84px;color:#fff;font-weight:700;letter-spacing:-0.25px">Shipped</div>
<div class="t" style="left:728.5px;top:1189.2px;font-size:13.05px;color:#1b1f27;letter-spacing:-0.38px">$150.00</div>
<svg style="left:866.0px;top:1182.0px" width="14.0" height="12.0" viewBox="433 591 7 6" ><g fill="none" stroke="#2b323d" stroke-width=".55"><rect x="434" y="591.800" width="4.400" height="4.200" rx=".6"/><path d="M434 593.300h4.400M434 594.600h4.400"/></g></svg>
<div class="t" style="left:882.5px;top:1182.4px;font-size:12.65px;color:#1b1f27;letter-spacing:-0.33px">Credit Card</div>
<div class="abs" style="left:1056.0px;top:1184.0px;width:24.0px;height:26.0px;background:#e1ecfd;border-radius:4px"></div>
<div class="abs" style="left:1086.5px;top:1184.0px;width:23.9px;height:26.0px;background:#f0e6fc;border-radius:4px"></div>
<svg style="left:1056.0px;top:1184.0px" width="56.0" height="20.0" viewBox="528 592 28 10" ><ellipse cx="534" cy="598.600" rx="2.300" ry="1.800" fill="#5596f7"/><path d="M547.600 599.500l3-3 .9.900-3 3-1.100.2z" fill="#a86eeb"/></svg>
</div></body></html>
